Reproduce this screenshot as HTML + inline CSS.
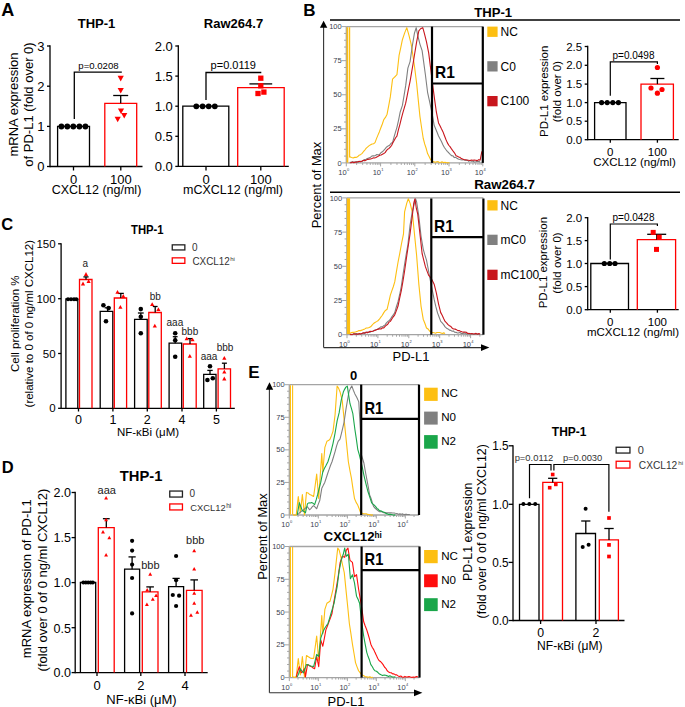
<!DOCTYPE html>
<html><head><meta charset="utf-8"><style>
html,body{margin:0;padding:0;background:#fff;}
svg{display:block;font-family:"Liberation Sans", sans-serif;}
</style></head><body>
<svg width="685" height="707" viewBox="0 0 685 707">
<rect x="0" y="0" width="685" height="707" fill="#fff"/>
<text x="1.3" y="15.9" font-size="18" text-anchor="start" font-weight="bold" fill="#000">A</text>
<text x="96.5" y="27.5" font-size="13" text-anchor="middle" font-weight="bold" fill="#000">THP-1</text>
<line x1="50" y1="45.35" x2="50" y2="167.15" stroke="#000" stroke-width="1.3"/>
<line x1="47" y1="46" x2="50" y2="46" stroke="#000" stroke-width="1.3"/>
<text x="44.5" y="50.65" font-size="13" text-anchor="end" fill="#000">3</text>
<line x1="47" y1="86.2" x2="50" y2="86.2" stroke="#000" stroke-width="1.3"/>
<text x="44.5" y="90.85" font-size="13" text-anchor="end" fill="#000">2</text>
<line x1="47" y1="126.4" x2="50" y2="126.4" stroke="#000" stroke-width="1.3"/>
<text x="44.5" y="131.05" font-size="13" text-anchor="end" fill="#000">1</text>
<line x1="47" y1="166.5" x2="50" y2="166.5" stroke="#000" stroke-width="1.3"/>
<text x="44.5" y="171.15" font-size="13" text-anchor="end" fill="#000">0</text>
<line x1="50" y1="166.5" x2="142.5" y2="166.5" stroke="#000" stroke-width="1.3"/>
<line x1="73.5" y1="166.5" x2="73.5" y2="170.5" stroke="#000" stroke-width="1.3"/>
<line x1="120.8" y1="166.5" x2="120.8" y2="170.5" stroke="#000" stroke-width="1.3"/>
<text x="73.5" y="184" font-size="13" text-anchor="middle" fill="#000">0</text>
<text x="120.8" y="184" font-size="13" text-anchor="middle" fill="#000">100</text>
<text x="96.5" y="194" font-size="12.5" text-anchor="middle" fill="#000">CXCL12 (ng/ml)</text>
<text x="17.5" y="104.5" font-size="13" text-anchor="middle" fill="#000" transform="rotate(-90 17.5 104.5)">mRNA expression</text>
<text x="32.5" y="104.5" font-size="13" text-anchor="middle" fill="#000" transform="rotate(-90 32.5 104.5)">of PD-L1  (fold over 0)</text>
<path d="M57.6 166.5V126.4H89.5V166.5" fill="none" stroke="#000000" stroke-width="1.3"/>
<path d="M104.8 166.5V103.3H136.7V166.5" fill="none" stroke="#ff0000" stroke-width="1.3"/>
<line x1="120.7" y1="103.3" x2="120.7" y2="95.5" stroke="#000" stroke-width="1.3"/>
<line x1="113.2" y1="95.5" x2="128.2" y2="95.5" stroke="#000" stroke-width="1.3"/>
<circle cx="61.4" cy="126.5" r="2.9" fill="#000"/>
<circle cx="67.3" cy="126.5" r="2.9" fill="#000"/>
<circle cx="73.3" cy="126.5" r="2.9" fill="#000"/>
<circle cx="79.4" cy="126.5" r="2.9" fill="#000"/>
<circle cx="85.4" cy="126.5" r="2.9" fill="#000"/>
<path d="M117.6 75.81L123.8 75.81L120.7 81.39Z" fill="#ff0000"/>
<path d="M117.6 88.01L123.8 88.01L120.7 93.59Z" fill="#ff0000"/>
<path d="M117.9 108.41L124.1 108.41L121 113.99Z" fill="#ff0000"/>
<path d="M121.1 112.91L127.3 112.91L124.2 118.49Z" fill="#ff0000"/>
<path d="M114.6 116.71L120.8 116.71L117.7 122.29Z" fill="#ff0000"/>
<path d="M74.3 119.1V72.1H121.8" stroke="#000" stroke-width="1.3" fill="none"/>
<text x="98.5" y="69.3" font-size="9.6" text-anchor="middle" fill="#000">p=0.0208</text>
<text x="233.5" y="28" font-size="13" text-anchor="middle" font-weight="bold" fill="#000">Raw264.7</text>
<line x1="178.3" y1="45.35" x2="178.3" y2="167.05" stroke="#000" stroke-width="1.3"/>
<line x1="175.3" y1="46" x2="178.3" y2="46" stroke="#000" stroke-width="1.3"/>
<text x="172.8" y="50.65" font-size="13" text-anchor="end" fill="#000">2.0</text>
<line x1="175.3" y1="76.1" x2="178.3" y2="76.1" stroke="#000" stroke-width="1.3"/>
<text x="172.8" y="80.75" font-size="13" text-anchor="end" fill="#000">1.5</text>
<line x1="175.3" y1="106.2" x2="178.3" y2="106.2" stroke="#000" stroke-width="1.3"/>
<text x="172.8" y="110.85" font-size="13" text-anchor="end" fill="#000">1.0</text>
<line x1="175.3" y1="136.3" x2="178.3" y2="136.3" stroke="#000" stroke-width="1.3"/>
<text x="172.8" y="140.95" font-size="13" text-anchor="end" fill="#000">0.5</text>
<line x1="175.3" y1="166.4" x2="178.3" y2="166.4" stroke="#000" stroke-width="1.3"/>
<text x="172.8" y="171.05" font-size="13" text-anchor="end" fill="#000">0.0</text>
<line x1="178.3" y1="166.4" x2="288.8" y2="166.4" stroke="#000" stroke-width="1.3"/>
<line x1="206" y1="166.4" x2="206" y2="170.4" stroke="#000" stroke-width="1.3"/>
<line x1="260.8" y1="166.4" x2="260.8" y2="170.4" stroke="#000" stroke-width="1.3"/>
<text x="206" y="184" font-size="13" text-anchor="middle" fill="#000">0</text>
<text x="260.8" y="184" font-size="13" text-anchor="middle" fill="#000">100</text>
<text x="233" y="194" font-size="12.5" text-anchor="middle" fill="#000">mCXCL12 (ng/ml)</text>
<path d="M182.8 166.4V106.2H228.8V166.4" fill="none" stroke="#000000" stroke-width="1.3"/>
<path d="M237.7 166.4V87.6H284.2V166.4" fill="none" stroke="#ff0000" stroke-width="1.3"/>
<line x1="260.8" y1="87.6" x2="260.8" y2="83.9" stroke="#000" stroke-width="1.3"/>
<line x1="249.4" y1="83.9" x2="272.2" y2="83.9" stroke="#000" stroke-width="1.3"/>
<circle cx="196.3" cy="106.3" r="2.9" fill="#000"/>
<circle cx="202.6" cy="106.3" r="2.9" fill="#000"/>
<circle cx="208.7" cy="106.3" r="2.9" fill="#000"/>
<circle cx="214.8" cy="106.3" r="2.9" fill="#000"/>
<rect x="258.15" y="75.55" width="5.3" height="5.3" fill="#ff0000"/>
<rect x="258.15" y="83.15" width="5.3" height="5.3" fill="#ff0000"/>
<rect x="255.35" y="90.85" width="5.3" height="5.3" fill="#ff0000"/>
<rect x="261.25" y="89.45" width="5.3" height="5.3" fill="#ff0000"/>
<path d="M206 100V72.5H261.3" stroke="#000" stroke-width="1.3" fill="none"/>
<text x="233.3" y="69.4" font-size="11" text-anchor="middle" fill="#000">p=0.0119</text>
<text x="303.2" y="15.5" font-size="17" text-anchor="start" font-weight="bold" fill="#000">B</text>
<text x="474.2" y="17.4" font-size="13.1" text-anchor="start" font-weight="bold" fill="#000">THP-1</text>
<line x1="330" y1="19.9" x2="680" y2="19.9" stroke="#000000" stroke-width="1.5"/>
<text x="474.2" y="189.3" font-size="13.3" text-anchor="start" font-weight="bold" fill="#000">Raw264.7</text>
<line x1="330" y1="192.3" x2="680" y2="192.3" stroke="#000000" stroke-width="1.5"/>
<line x1="323.6" y1="27" x2="323.6" y2="347.6" stroke="#333" stroke-width="1.1"/>
<path d="M319.9 27.8L323.6 20.7L327.3 27.8Z" stroke="#000" stroke-width="0" fill="#000000"/>
<line x1="323.6" y1="347.6" x2="482" y2="347.6" stroke="#333" stroke-width="1.1"/>
<path d="M481 344.2L489.4 347.6L481 351Z" stroke="#000" stroke-width="0" fill="#000000"/>
<text x="321" y="185" font-size="12.85" text-anchor="middle" fill="#000" transform="rotate(-90 321 185)">Percent of Max</text>
<text x="411" y="361.4" font-size="13" text-anchor="middle" fill="#000">PD-L1</text>
<line x1="346.3" y1="26.6" x2="482.8" y2="26.6" stroke="#a4a4a4" stroke-width="1.3"/>
<line x1="346.3" y1="26.6" x2="346.3" y2="162.9" stroke="#a4a4a4" stroke-width="1.3"/>
<line x1="346.3" y1="162.9" x2="482.8" y2="162.9" stroke="#a4a4a4" stroke-width="1.3"/>
<line x1="341.8" y1="162.9" x2="346.3" y2="162.9" stroke="#a4a4a4" stroke-width="1"/>
<text x="341.7" y="165.5" font-size="7.5" text-anchor="end" fill="#3a4150">0</text>
<line x1="344.1" y1="156.09" x2="346.3" y2="156.09" stroke="#a4a4a4" stroke-width="1"/>
<line x1="344.1" y1="149.27" x2="346.3" y2="149.27" stroke="#a4a4a4" stroke-width="1"/>
<line x1="344.1" y1="142.46" x2="346.3" y2="142.46" stroke="#a4a4a4" stroke-width="1"/>
<line x1="344.1" y1="135.64" x2="346.3" y2="135.64" stroke="#a4a4a4" stroke-width="1"/>
<line x1="341.8" y1="128.82" x2="346.3" y2="128.82" stroke="#a4a4a4" stroke-width="1"/>
<text x="341.7" y="131.42" font-size="7.5" text-anchor="end" fill="#3a4150">25</text>
<line x1="344.1" y1="122.01" x2="346.3" y2="122.01" stroke="#a4a4a4" stroke-width="1"/>
<line x1="344.1" y1="115.19" x2="346.3" y2="115.19" stroke="#a4a4a4" stroke-width="1"/>
<line x1="344.1" y1="108.38" x2="346.3" y2="108.38" stroke="#a4a4a4" stroke-width="1"/>
<line x1="344.1" y1="101.56" x2="346.3" y2="101.56" stroke="#a4a4a4" stroke-width="1"/>
<line x1="341.8" y1="94.75" x2="346.3" y2="94.75" stroke="#a4a4a4" stroke-width="1"/>
<text x="341.7" y="97.35" font-size="7.5" text-anchor="end" fill="#3a4150">50</text>
<line x1="344.1" y1="87.94" x2="346.3" y2="87.94" stroke="#a4a4a4" stroke-width="1"/>
<line x1="344.1" y1="81.12" x2="346.3" y2="81.12" stroke="#a4a4a4" stroke-width="1"/>
<line x1="344.1" y1="74.31" x2="346.3" y2="74.31" stroke="#a4a4a4" stroke-width="1"/>
<line x1="344.1" y1="67.49" x2="346.3" y2="67.49" stroke="#a4a4a4" stroke-width="1"/>
<line x1="341.8" y1="60.67" x2="346.3" y2="60.67" stroke="#a4a4a4" stroke-width="1"/>
<text x="341.7" y="63.27" font-size="7.5" text-anchor="end" fill="#3a4150">75</text>
<line x1="344.1" y1="53.86" x2="346.3" y2="53.86" stroke="#a4a4a4" stroke-width="1"/>
<line x1="344.1" y1="47.04" x2="346.3" y2="47.04" stroke="#a4a4a4" stroke-width="1"/>
<line x1="344.1" y1="40.23" x2="346.3" y2="40.23" stroke="#a4a4a4" stroke-width="1"/>
<line x1="344.1" y1="33.41" x2="346.3" y2="33.41" stroke="#a4a4a4" stroke-width="1"/>
<line x1="341.8" y1="26.6" x2="346.3" y2="26.6" stroke="#a4a4a4" stroke-width="1"/>
<text x="341.7" y="29.2" font-size="7.5" text-anchor="end" fill="#3a4150">100</text>
<line x1="346.3" y1="162.9" x2="346.3" y2="166.4" stroke="#a4a4a4" stroke-width="1"/>
<text x="346.7" y="174.9" font-size="7.5" text-anchor="end" fill="#3a4150">10</text>
<text x="346.9" y="171.2" font-size="4" text-anchor="start" fill="#3a4150">0</text>
<line x1="356.63" y1="162.9" x2="356.63" y2="164.9" stroke="#a4a4a4" stroke-width="1"/>
<line x1="362.67" y1="162.9" x2="362.67" y2="164.9" stroke="#a4a4a4" stroke-width="1"/>
<line x1="366.95" y1="162.9" x2="366.95" y2="164.9" stroke="#a4a4a4" stroke-width="1"/>
<line x1="370.27" y1="162.9" x2="370.27" y2="164.9" stroke="#a4a4a4" stroke-width="1"/>
<line x1="372.99" y1="162.9" x2="372.99" y2="164.9" stroke="#a4a4a4" stroke-width="1"/>
<line x1="375.29" y1="162.9" x2="375.29" y2="164.9" stroke="#a4a4a4" stroke-width="1"/>
<line x1="377.28" y1="162.9" x2="377.28" y2="164.9" stroke="#a4a4a4" stroke-width="1"/>
<line x1="379.03" y1="162.9" x2="379.03" y2="164.9" stroke="#a4a4a4" stroke-width="1"/>
<line x1="380.6" y1="162.9" x2="380.6" y2="166.4" stroke="#a4a4a4" stroke-width="1"/>
<text x="381" y="174.9" font-size="7.5" text-anchor="end" fill="#3a4150">10</text>
<text x="381.2" y="171.2" font-size="4" text-anchor="start" fill="#3a4150">1</text>
<line x1="390.93" y1="162.9" x2="390.93" y2="164.9" stroke="#a4a4a4" stroke-width="1"/>
<line x1="396.97" y1="162.9" x2="396.97" y2="164.9" stroke="#a4a4a4" stroke-width="1"/>
<line x1="401.25" y1="162.9" x2="401.25" y2="164.9" stroke="#a4a4a4" stroke-width="1"/>
<line x1="404.57" y1="162.9" x2="404.57" y2="164.9" stroke="#a4a4a4" stroke-width="1"/>
<line x1="407.29" y1="162.9" x2="407.29" y2="164.9" stroke="#a4a4a4" stroke-width="1"/>
<line x1="409.59" y1="162.9" x2="409.59" y2="164.9" stroke="#a4a4a4" stroke-width="1"/>
<line x1="411.58" y1="162.9" x2="411.58" y2="164.9" stroke="#a4a4a4" stroke-width="1"/>
<line x1="413.33" y1="162.9" x2="413.33" y2="164.9" stroke="#a4a4a4" stroke-width="1"/>
<line x1="414.8" y1="162.9" x2="414.8" y2="166.4" stroke="#a4a4a4" stroke-width="1"/>
<text x="415.2" y="174.9" font-size="7.5" text-anchor="end" fill="#3a4150">10</text>
<text x="415.4" y="171.2" font-size="4" text-anchor="start" fill="#3a4150">2</text>
<line x1="425.13" y1="162.9" x2="425.13" y2="164.9" stroke="#a4a4a4" stroke-width="1"/>
<line x1="431.17" y1="162.9" x2="431.17" y2="164.9" stroke="#a4a4a4" stroke-width="1"/>
<line x1="435.45" y1="162.9" x2="435.45" y2="164.9" stroke="#a4a4a4" stroke-width="1"/>
<line x1="438.77" y1="162.9" x2="438.77" y2="164.9" stroke="#a4a4a4" stroke-width="1"/>
<line x1="441.49" y1="162.9" x2="441.49" y2="164.9" stroke="#a4a4a4" stroke-width="1"/>
<line x1="443.79" y1="162.9" x2="443.79" y2="164.9" stroke="#a4a4a4" stroke-width="1"/>
<line x1="445.78" y1="162.9" x2="445.78" y2="164.9" stroke="#a4a4a4" stroke-width="1"/>
<line x1="447.53" y1="162.9" x2="447.53" y2="164.9" stroke="#a4a4a4" stroke-width="1"/>
<line x1="449" y1="162.9" x2="449" y2="166.4" stroke="#a4a4a4" stroke-width="1"/>
<text x="449.4" y="174.9" font-size="7.5" text-anchor="end" fill="#3a4150">10</text>
<text x="449.6" y="171.2" font-size="4" text-anchor="start" fill="#3a4150">3</text>
<line x1="459.33" y1="162.9" x2="459.33" y2="164.9" stroke="#a4a4a4" stroke-width="1"/>
<line x1="465.37" y1="162.9" x2="465.37" y2="164.9" stroke="#a4a4a4" stroke-width="1"/>
<line x1="469.65" y1="162.9" x2="469.65" y2="164.9" stroke="#a4a4a4" stroke-width="1"/>
<line x1="472.97" y1="162.9" x2="472.97" y2="164.9" stroke="#a4a4a4" stroke-width="1"/>
<line x1="475.69" y1="162.9" x2="475.69" y2="164.9" stroke="#a4a4a4" stroke-width="1"/>
<line x1="477.99" y1="162.9" x2="477.99" y2="164.9" stroke="#a4a4a4" stroke-width="1"/>
<line x1="479.98" y1="162.9" x2="479.98" y2="164.9" stroke="#a4a4a4" stroke-width="1"/>
<line x1="481.73" y1="162.9" x2="481.73" y2="164.9" stroke="#a4a4a4" stroke-width="1"/>
<line x1="482.8" y1="162.9" x2="482.8" y2="166.4" stroke="#a4a4a4" stroke-width="1"/>
<text x="483.2" y="174.9" font-size="7.5" text-anchor="end" fill="#3a4150">10</text>
<text x="483.4" y="171.2" font-size="4" text-anchor="start" fill="#3a4150">4</text>
<rect x="346.6" y="27.2" width="1.7" height="135.4" fill="#fdbf12"/>
<line x1="349.6" y1="27.2" x2="349.6" y2="157.5" stroke="#fdbf12" stroke-width="1.2"/>
<polyline points="349.85,156.85 351.5,157.57 353.14,157.95 354.6,157.37 356.06,157.41 357.52,156.85 358.98,155.32 360.44,154.68 361.9,153.57 363.36,151.73 364.82,150.03 366.28,148.09 367.74,146.85 369.19,145.64 370.65,144.81 372.11,143.94 373.57,143.71 375.03,142.62 376.49,138.61 377.95,135.1 379.41,131.67 380.87,127.81 382.33,123.96 383.79,119.63 385.43,117.43 387.08,114.15 388.72,105.73 390.36,96.64 392.55,79.12 394.01,77.62 395.47,76.24 396.93,74.74 399.12,55.03 400.76,47.51 402.4,39.71 404.59,33.14 406.78,27.66 408.97,35.33 411.16,44.09 412.8,54.76 414.45,65.98 416.64,83.5 418.28,100.15 419.92,116.34 421.56,127.53 423.21,138.24 424.67,143.88 426.13,148.27 427.58,153.57 429.23,156.79 430.87,160.14 432.51,161.24 434.15,161.89 435.47,162.24 436.78,161.7 438.1,161.62 439.41,162.55 440.72,162.33 442.18,161.89 443.64,162.58 445.1,162.26 446.56,162.68 448.02,162.71 449.48,162.76" fill="none" stroke="#fdbf12" stroke-width="1.1" stroke-linejoin="round"/>
<polyline points="349.85,162.33 351.19,162.09 352.53,161.73 353.87,162.12 355.21,162.08 356.54,161.5 357.88,162.11 359.22,161.84 360.56,161.23 361.9,161.23 363.26,160.77 364.63,159.45 366,159.3 367.37,158.55 368.74,158.03 370.11,157.57 371.48,156.33 372.84,155.76 374.16,155.9 375.47,155.45 376.79,154.57 378.1,154.74 379.41,154.66 380.87,152.77 382.33,151.81 383.79,150.28 385.25,148.68 386.71,146.98 388.17,145.9 389.63,145.14 391.09,143.24 392.55,142.62 394.01,137.05 395.47,132.07 396.93,127.29 398.57,120.07 400.21,111.96 402.4,105.4 404.05,95.6 405.69,85.69 407.88,68.17 410.07,61.6 412.26,46.28 414.45,33.14 416.2,27.66 417.73,35.33 419.92,44.09 422.11,50.65 423.75,62.69 425.4,74.74 427.58,92.26 429.23,99.79 430.87,107.58 432.51,115.9 434.15,125.1 435.61,128.7 437.07,132.19 438.53,136.05 439.99,138.83 441.45,141.47 442.91,144.81 444.37,147.49 445.83,149.51 447.29,151.38 448.75,152.76 450.21,154.37 451.67,155.76 452.98,155.89 454.3,157.58 455.61,157.35 456.93,158.22 458.24,159.04 459.55,159.53 460.87,159.72 462.18,160.06 463.49,159.57 464.81,160.14 466.12,160.57 467.44,160.08 468.75,161.33 470.06,160.5 471.38,161.23 472.84,160.97 474.3,161.99 475.76,161.75 477.22,161.16 478.68,161.49 480.14,161.89" fill="none" stroke="#808080" stroke-width="1.1" stroke-linejoin="round"/>
<polyline points="349.85,162.76 351.19,162.75 352.53,162.05 353.87,162.7 355.21,162.01 356.54,162.31 357.88,161.74 359.22,161.2 360.56,161.71 361.9,161.23 363.36,160.32 364.82,160.83 366.28,159.91 367.74,159.36 369.19,159.1 370.65,159.04 371.97,158.55 373.28,157.88 374.6,157.99 375.91,157.52 377.22,156.85 378.54,155.95 379.85,155.22 381.16,155.07 382.48,154.33 383.79,153.57 385.11,152.67 386.42,150.63 387.73,149.22 389.05,148.38 390.36,147 391.68,145.34 392.99,142.54 394.3,140.3 395.62,137.76 396.93,136.05 398.39,129.98 399.85,124.62 401.31,118.53 402.77,113.12 404.23,108.15 405.69,103.21 407.15,95.82 408.61,88.48 410.07,81.31 411.53,72.87 412.99,64.25 414.45,55.03 416.64,41.9 418.83,30.95 420.58,28.76 422.77,27.66 424.3,33.14 426.49,41.9 428.68,52.84 430.87,70.36 433.06,87.88 434.7,100.06 436.34,111.96 438.53,122.91 439.99,125.81 441.45,128.83 442.91,131.67 444.37,135.46 445.83,139.24 447.29,142.62 448.75,145.25 450.21,146.89 451.67,149.19 453.13,151.21 454.59,153.07 456.05,155.76 457.36,156.34 458.68,157.02 459.99,157.37 461.31,158.55 462.62,159.04 464.08,159.69 465.54,159.72 467,160.08 468.46,160.23 469.92,160.43 471.38,160.14 472.84,160.31 474.3,160.13 475.76,160.28 477.22,160.65 478.68,159.65 480.14,160.14 481.89,151.38" fill="none" stroke="#c8161d" stroke-width="1.1" stroke-linejoin="round"/>
<line x1="432" y1="26.6" x2="432" y2="162.9" stroke="#000000" stroke-width="2.2"/>
<line x1="482.8" y1="26.6" x2="482.8" y2="162.9" stroke="#000000" stroke-width="2.2"/>
<line x1="432" y1="83.5" x2="482.8" y2="83.5" stroke="#000000" stroke-width="2.2"/>
<text x="435" y="77.9" font-size="17" text-anchor="start" font-weight="bold" fill="#000" textLength="19.8" lengthAdjust="spacingAndGlyphs">R1</text>
<line x1="346.8" y1="197.9" x2="483.4" y2="197.9" stroke="#a4a4a4" stroke-width="1.3"/>
<line x1="346.8" y1="197.9" x2="346.8" y2="334.7" stroke="#a4a4a4" stroke-width="1.3"/>
<line x1="346.8" y1="334.7" x2="483.4" y2="334.7" stroke="#a4a4a4" stroke-width="1.3"/>
<line x1="342.3" y1="334.7" x2="346.8" y2="334.7" stroke="#a4a4a4" stroke-width="1"/>
<text x="342.2" y="337.3" font-size="7.5" text-anchor="end" fill="#3a4150">0</text>
<line x1="344.6" y1="327.86" x2="346.8" y2="327.86" stroke="#a4a4a4" stroke-width="1"/>
<line x1="344.6" y1="321.02" x2="346.8" y2="321.02" stroke="#a4a4a4" stroke-width="1"/>
<line x1="344.6" y1="314.18" x2="346.8" y2="314.18" stroke="#a4a4a4" stroke-width="1"/>
<line x1="344.6" y1="307.34" x2="346.8" y2="307.34" stroke="#a4a4a4" stroke-width="1"/>
<line x1="342.3" y1="300.5" x2="346.8" y2="300.5" stroke="#a4a4a4" stroke-width="1"/>
<text x="342.2" y="303.1" font-size="7.5" text-anchor="end" fill="#3a4150">25</text>
<line x1="344.6" y1="293.66" x2="346.8" y2="293.66" stroke="#a4a4a4" stroke-width="1"/>
<line x1="344.6" y1="286.82" x2="346.8" y2="286.82" stroke="#a4a4a4" stroke-width="1"/>
<line x1="344.6" y1="279.98" x2="346.8" y2="279.98" stroke="#a4a4a4" stroke-width="1"/>
<line x1="344.6" y1="273.14" x2="346.8" y2="273.14" stroke="#a4a4a4" stroke-width="1"/>
<line x1="342.3" y1="266.3" x2="346.8" y2="266.3" stroke="#a4a4a4" stroke-width="1"/>
<text x="342.2" y="268.9" font-size="7.5" text-anchor="end" fill="#3a4150">50</text>
<line x1="344.6" y1="259.46" x2="346.8" y2="259.46" stroke="#a4a4a4" stroke-width="1"/>
<line x1="344.6" y1="252.62" x2="346.8" y2="252.62" stroke="#a4a4a4" stroke-width="1"/>
<line x1="344.6" y1="245.78" x2="346.8" y2="245.78" stroke="#a4a4a4" stroke-width="1"/>
<line x1="344.6" y1="238.94" x2="346.8" y2="238.94" stroke="#a4a4a4" stroke-width="1"/>
<line x1="342.3" y1="232.1" x2="346.8" y2="232.1" stroke="#a4a4a4" stroke-width="1"/>
<text x="342.2" y="234.7" font-size="7.5" text-anchor="end" fill="#3a4150">75</text>
<line x1="344.6" y1="225.26" x2="346.8" y2="225.26" stroke="#a4a4a4" stroke-width="1"/>
<line x1="344.6" y1="218.42" x2="346.8" y2="218.42" stroke="#a4a4a4" stroke-width="1"/>
<line x1="344.6" y1="211.58" x2="346.8" y2="211.58" stroke="#a4a4a4" stroke-width="1"/>
<line x1="344.6" y1="204.74" x2="346.8" y2="204.74" stroke="#a4a4a4" stroke-width="1"/>
<line x1="342.3" y1="197.9" x2="346.8" y2="197.9" stroke="#a4a4a4" stroke-width="1"/>
<text x="342.2" y="200.5" font-size="7.5" text-anchor="end" fill="#3a4150">100</text>
<line x1="347" y1="334.7" x2="347" y2="338.2" stroke="#a4a4a4" stroke-width="1"/>
<text x="347.4" y="346.7" font-size="7.5" text-anchor="end" fill="#3a4150">10</text>
<text x="347.6" y="343" font-size="4" text-anchor="start" fill="#3a4150">0</text>
<line x1="356.3" y1="334.7" x2="356.3" y2="336.7" stroke="#a4a4a4" stroke-width="1"/>
<line x1="361.74" y1="334.7" x2="361.74" y2="336.7" stroke="#a4a4a4" stroke-width="1"/>
<line x1="365.6" y1="334.7" x2="365.6" y2="336.7" stroke="#a4a4a4" stroke-width="1"/>
<line x1="368.6" y1="334.7" x2="368.6" y2="336.7" stroke="#a4a4a4" stroke-width="1"/>
<line x1="371.04" y1="334.7" x2="371.04" y2="336.7" stroke="#a4a4a4" stroke-width="1"/>
<line x1="373.11" y1="334.7" x2="373.11" y2="336.7" stroke="#a4a4a4" stroke-width="1"/>
<line x1="374.91" y1="334.7" x2="374.91" y2="336.7" stroke="#a4a4a4" stroke-width="1"/>
<line x1="376.49" y1="334.7" x2="376.49" y2="336.7" stroke="#a4a4a4" stroke-width="1"/>
<line x1="377.9" y1="334.7" x2="377.9" y2="338.2" stroke="#a4a4a4" stroke-width="1"/>
<text x="378.3" y="346.7" font-size="7.5" text-anchor="end" fill="#3a4150">10</text>
<text x="378.5" y="343" font-size="4" text-anchor="start" fill="#3a4150">1</text>
<line x1="387.2" y1="334.7" x2="387.2" y2="336.7" stroke="#a4a4a4" stroke-width="1"/>
<line x1="392.64" y1="334.7" x2="392.64" y2="336.7" stroke="#a4a4a4" stroke-width="1"/>
<line x1="396.5" y1="334.7" x2="396.5" y2="336.7" stroke="#a4a4a4" stroke-width="1"/>
<line x1="399.5" y1="334.7" x2="399.5" y2="336.7" stroke="#a4a4a4" stroke-width="1"/>
<line x1="401.94" y1="334.7" x2="401.94" y2="336.7" stroke="#a4a4a4" stroke-width="1"/>
<line x1="404.01" y1="334.7" x2="404.01" y2="336.7" stroke="#a4a4a4" stroke-width="1"/>
<line x1="405.81" y1="334.7" x2="405.81" y2="336.7" stroke="#a4a4a4" stroke-width="1"/>
<line x1="407.39" y1="334.7" x2="407.39" y2="336.7" stroke="#a4a4a4" stroke-width="1"/>
<line x1="408.8" y1="334.7" x2="408.8" y2="338.2" stroke="#a4a4a4" stroke-width="1"/>
<text x="409.2" y="346.7" font-size="7.5" text-anchor="end" fill="#3a4150">10</text>
<text x="409.4" y="343" font-size="4" text-anchor="start" fill="#3a4150">2</text>
<line x1="418.1" y1="334.7" x2="418.1" y2="336.7" stroke="#a4a4a4" stroke-width="1"/>
<line x1="423.54" y1="334.7" x2="423.54" y2="336.7" stroke="#a4a4a4" stroke-width="1"/>
<line x1="427.4" y1="334.7" x2="427.4" y2="336.7" stroke="#a4a4a4" stroke-width="1"/>
<line x1="430.4" y1="334.7" x2="430.4" y2="336.7" stroke="#a4a4a4" stroke-width="1"/>
<line x1="432.84" y1="334.7" x2="432.84" y2="336.7" stroke="#a4a4a4" stroke-width="1"/>
<line x1="434.91" y1="334.7" x2="434.91" y2="336.7" stroke="#a4a4a4" stroke-width="1"/>
<line x1="436.71" y1="334.7" x2="436.71" y2="336.7" stroke="#a4a4a4" stroke-width="1"/>
<line x1="438.29" y1="334.7" x2="438.29" y2="336.7" stroke="#a4a4a4" stroke-width="1"/>
<line x1="439.7" y1="334.7" x2="439.7" y2="338.2" stroke="#a4a4a4" stroke-width="1"/>
<text x="440.1" y="346.7" font-size="7.5" text-anchor="end" fill="#3a4150">10</text>
<text x="440.3" y="343" font-size="4" text-anchor="start" fill="#3a4150">3</text>
<line x1="449" y1="334.7" x2="449" y2="336.7" stroke="#a4a4a4" stroke-width="1"/>
<line x1="454.44" y1="334.7" x2="454.44" y2="336.7" stroke="#a4a4a4" stroke-width="1"/>
<line x1="458.3" y1="334.7" x2="458.3" y2="336.7" stroke="#a4a4a4" stroke-width="1"/>
<line x1="461.3" y1="334.7" x2="461.3" y2="336.7" stroke="#a4a4a4" stroke-width="1"/>
<line x1="463.74" y1="334.7" x2="463.74" y2="336.7" stroke="#a4a4a4" stroke-width="1"/>
<line x1="465.81" y1="334.7" x2="465.81" y2="336.7" stroke="#a4a4a4" stroke-width="1"/>
<line x1="467.61" y1="334.7" x2="467.61" y2="336.7" stroke="#a4a4a4" stroke-width="1"/>
<line x1="469.19" y1="334.7" x2="469.19" y2="336.7" stroke="#a4a4a4" stroke-width="1"/>
<line x1="470.6" y1="334.7" x2="470.6" y2="338.2" stroke="#a4a4a4" stroke-width="1"/>
<text x="471" y="346.7" font-size="7.5" text-anchor="end" fill="#3a4150">10</text>
<text x="471.2" y="343" font-size="4" text-anchor="start" fill="#3a4150">4</text>
<line x1="479.9" y1="334.7" x2="479.9" y2="336.7" stroke="#a4a4a4" stroke-width="1"/>
<rect x="346.9" y="198.3" width="3.2" height="135.8" fill="#fdbf12"/>
<polyline points="349.85,333.42 351.39,332.46 352.92,332.34 354.45,332.23 355.98,331.83 357.52,331.23 358.98,330.45 360.44,330.61 361.9,330.14 363.36,329.5 364.82,328.91 366.28,327.95 367.74,328.03 369.19,327.57 370.65,326.85 372.11,325.15 373.57,323.5 375.03,322.47 376.49,321.64 377.95,320.75 379.41,319.19 380.87,317.1 382.33,315.26 383.79,312.62 385.43,310.44 387.08,309.33 388.72,302.49 390.36,295.1 391.82,290.87 393.28,286.72 394.74,281.96 396.38,271.93 398.02,262.26 399.67,253.83 401.31,244.74 403.5,233.79 404.59,211.9 406.78,203.14 408.32,198.76 410.07,203.14 412.26,211.9 414.45,233.79 416.64,255.69 418.83,284.15 421.02,306.05 423.21,319.19 424.85,323.29 426.49,327.95 428.13,329.05 429.77,331.23 431.23,332.17 432.69,332.45 434.15,332.76 435.52,333.19 436.89,332.5 438.26,332.52 439.63,332.57 441,332.93 442.36,333.4 443.73,332.87 445.1,333.42" fill="none" stroke="#fdbf12" stroke-width="1.1" stroke-linejoin="round"/>
<polyline points="349.85,334.51 351.19,334.34 352.53,334.72 353.87,333.88 355.21,333.53 356.54,333.49 357.88,334.08 359.22,334.13 360.56,333.9 361.9,333.42 363.26,333.12 364.63,332.63 366,332.89 367.37,331.94 368.74,332.44 370.11,332.3 371.48,331.36 372.84,331.23 374.21,330.81 375.58,329.75 376.95,329.48 378.32,328.69 379.69,327.73 381.06,326.68 382.42,326.89 383.79,325.76 385.11,324.83 386.42,322.88 387.73,321.51 389.05,320.82 390.36,319.19 391.82,316.9 393.28,314.95 394.74,312.62 396.38,306.75 398.02,301.67 399.67,294.49 401.31,286.34 402.95,274.99 404.59,264.45 406.24,254.16 407.88,244.74 410.07,225.03 412.26,211.9 414.45,203.14 415.54,198.76 416.64,202.04 418.83,216.28 421.02,235.98 423.21,249.12 424.85,254.85 426.49,260.07 428.13,268.62 429.77,277.58 431.96,288.53 434.15,299.48 435.8,306.44 437.44,312.62 439.08,316.98 440.72,321.38 442.18,322.98 443.64,324.64 445.1,326.85 446.56,328.2 448.02,328.9 449.48,330.14 450.79,330.38 452.11,331.19 453.42,330.92 454.74,332.29 456.05,332.33 457.36,332.99 458.68,332.9 459.99,332.57 461.31,333.52 462.62,333.42 463.97,333.14 465.31,333.28 466.66,333.95 468.01,334.06 469.36,333.94 470.7,333.84 472.05,333.67 473.4,334 474.75,334.38 476.09,333.7 477.44,334.05 478.79,334.41 480.14,334.08" fill="none" stroke="#808080" stroke-width="1.1" stroke-linejoin="round"/>
<polyline points="349.85,334.51 351.19,334.68 352.53,334.3 353.87,333.8 355.21,334.29 356.54,333.92 357.88,334.3 359.22,333.53 360.56,334.05 361.9,333.42 363.26,332.86 364.63,333.31 366,332.07 367.37,332.84 368.74,331.99 370.11,331.3 371.48,331.43 372.84,331.23 374.21,330.39 375.58,330.2 376.95,329.55 378.32,329.14 379.69,328.78 381.06,328.99 382.42,327.86 383.79,327.95 385.11,326.4 386.42,325.2 387.73,324.33 389.05,322.15 390.36,321.38 391.82,319.04 393.28,316.8 394.74,314.81 396.38,310.58 398.02,306.05 399.67,298.04 401.31,290.72 402.95,281.1 404.59,271.02 406.78,255.69 408.43,244.79 410.07,233.79 412.26,216.28 413.79,203.14 414.89,198.76 416.2,207.52 417.73,214.09 419.92,233.79 422.11,253.5 423.75,260.1 425.4,266.64 427.04,271.1 428.68,275.4 430.32,277.04 431.96,279.77 434.15,284.15 436.34,292.91 438.53,303.86 440.72,312.62 442.18,315.31 443.64,318.47 445.1,321.38 446.56,322.83 448.02,324.65 449.48,325.76 450.94,326.58 452.4,328.43 453.86,329.04 455.17,329.12 456.49,329.67 457.8,330.64 459.12,330.55 460.43,331.23 461.89,331.71 463.35,332.14 464.81,332.15 466.27,332.28 467.73,333.5 469.19,333.42 470.56,333.81 471.92,333.56 473.29,333.98 474.66,333.67 476.03,333.36 477.4,334.24 478.77,333.62 480.14,334.08" fill="none" stroke="#c8161d" stroke-width="1.1" stroke-linejoin="round"/>
<line x1="431.3" y1="198.5" x2="431.3" y2="334.7" stroke="#000000" stroke-width="2.2"/>
<line x1="483.4" y1="198.5" x2="483.4" y2="334.7" stroke="#000000" stroke-width="2.2"/>
<line x1="431.3" y1="237.1" x2="483.4" y2="237.1" stroke="#000000" stroke-width="2.2"/>
<text x="434" y="231.7" font-size="17" text-anchor="start" font-weight="bold" fill="#000" textLength="19.8" lengthAdjust="spacingAndGlyphs">R1</text>
<rect x="487.3" y="26.6" width="10.3" height="10.3" fill="#fdbf12"/>
<text x="500.6" y="36.05" font-size="12" text-anchor="start" fill="#000">NC</text>
<rect x="487.3" y="61.2" width="10.3" height="10.3" fill="#808080"/>
<text x="500.6" y="70.65" font-size="12" text-anchor="start" fill="#000">C0</text>
<rect x="487.3" y="96" width="10.3" height="10.3" fill="#c8161d"/>
<text x="500.6" y="105.45" font-size="12" text-anchor="start" fill="#000">C100</text>
<rect x="487.3" y="200.2" width="10.3" height="10.3" fill="#fdbf12"/>
<text x="500.6" y="209.65" font-size="12" text-anchor="start" fill="#000">NC</text>
<rect x="487.3" y="234.7" width="10.3" height="10.3" fill="#808080"/>
<text x="500.6" y="244.15" font-size="12" text-anchor="start" fill="#000">mC0</text>
<rect x="487.3" y="269.7" width="10.3" height="10.3" fill="#c8161d"/>
<text x="500.6" y="279.15" font-size="12" text-anchor="start" fill="#000">mC100</text>
<line x1="587.7" y1="45.85" x2="587.7" y2="140.35" stroke="#000" stroke-width="1.3"/>
<line x1="584.7" y1="46.5" x2="587.7" y2="46.5" stroke="#000" stroke-width="1.3"/>
<text x="582.2" y="50.62" font-size="11.5" text-anchor="end" fill="#000">2.5</text>
<line x1="584.7" y1="65.3" x2="587.7" y2="65.3" stroke="#000" stroke-width="1.3"/>
<text x="582.2" y="69.42" font-size="11.5" text-anchor="end" fill="#000">2.0</text>
<line x1="584.7" y1="84.1" x2="587.7" y2="84.1" stroke="#000" stroke-width="1.3"/>
<text x="582.2" y="88.22" font-size="11.5" text-anchor="end" fill="#000">1.5</text>
<line x1="584.7" y1="102.6" x2="587.7" y2="102.6" stroke="#000" stroke-width="1.3"/>
<text x="582.2" y="106.72" font-size="11.5" text-anchor="end" fill="#000">1.0</text>
<line x1="584.7" y1="121.2" x2="587.7" y2="121.2" stroke="#000" stroke-width="1.3"/>
<text x="582.2" y="125.32" font-size="11.5" text-anchor="end" fill="#000">0.5</text>
<line x1="584.7" y1="139.7" x2="587.7" y2="139.7" stroke="#000" stroke-width="1.3"/>
<text x="582.2" y="143.82" font-size="11.5" text-anchor="end" fill="#000">0.0</text>
<line x1="587.7" y1="139.7" x2="678.7" y2="139.7" stroke="#000" stroke-width="1.3"/>
<line x1="610.3" y1="139.7" x2="610.3" y2="142.7" stroke="#000" stroke-width="1.3"/>
<line x1="657.4" y1="139.7" x2="657.4" y2="142.7" stroke="#000" stroke-width="1.3"/>
<text x="610.3" y="156" font-size="11.5" text-anchor="middle" fill="#000">0</text>
<text x="657.4" y="156" font-size="11.5" text-anchor="middle" fill="#000">100</text>
<text x="634.5" y="166" font-size="11.5" text-anchor="middle" fill="#000">CXCL12 (ng/ml)</text>
<text x="547.8" y="91.3" font-size="11.5" text-anchor="middle" fill="#000" transform="rotate(-90 547.8 91.3)">PD-L1 expression</text>
<text x="561.2" y="91.6" font-size="11.5" text-anchor="middle" fill="#000" transform="rotate(-90 561.2 91.6)">(fold over 0)</text>
<path d="M594.6 139.7V102.6H626V139.7" fill="none" stroke="#000000" stroke-width="1.3"/>
<path d="M641 139.7V84.1H673.4V139.7" fill="none" stroke="#ff0000" stroke-width="1.3"/>
<line x1="657.4" y1="84.1" x2="657.4" y2="78.5" stroke="#000" stroke-width="1.3"/>
<line x1="650.4" y1="78.5" x2="664.4" y2="78.5" stroke="#000" stroke-width="1.3"/>
<circle cx="601.6" cy="102.6" r="2.6" fill="#000"/>
<circle cx="607.2" cy="102.6" r="2.6" fill="#000"/>
<circle cx="612.8" cy="102.6" r="2.6" fill="#000"/>
<circle cx="618.4" cy="102.6" r="2.6" fill="#000"/>
<circle cx="657.4" cy="67.5" r="2.6" fill="#ff0000"/>
<circle cx="651" cy="88" r="2.6" fill="#ff0000"/>
<circle cx="662" cy="89.5" r="2.6" fill="#ff0000"/>
<circle cx="657.4" cy="93.2" r="2.6" fill="#ff0000"/>
<path d="M610.3 95.7V61.8H657.4V64" stroke="#000" stroke-width="1.2" fill="none"/>
<text x="633.5" y="58.8" font-size="10" text-anchor="middle" fill="#000">p=0.0498</text>
<line x1="587.7" y1="217.05" x2="587.7" y2="310.35" stroke="#000" stroke-width="1.3"/>
<line x1="584.7" y1="217.7" x2="587.7" y2="217.7" stroke="#000" stroke-width="1.3"/>
<text x="582.2" y="221.82" font-size="11.5" text-anchor="end" fill="#000">2.0</text>
<line x1="584.7" y1="240.6" x2="587.7" y2="240.6" stroke="#000" stroke-width="1.3"/>
<text x="582.2" y="244.72" font-size="11.5" text-anchor="end" fill="#000">1.5</text>
<line x1="584.7" y1="263.5" x2="587.7" y2="263.5" stroke="#000" stroke-width="1.3"/>
<text x="582.2" y="267.62" font-size="11.5" text-anchor="end" fill="#000">1.0</text>
<line x1="584.7" y1="286.6" x2="587.7" y2="286.6" stroke="#000" stroke-width="1.3"/>
<text x="582.2" y="290.72" font-size="11.5" text-anchor="end" fill="#000">0.5</text>
<line x1="584.7" y1="309.7" x2="587.7" y2="309.7" stroke="#000" stroke-width="1.3"/>
<text x="582.2" y="313.82" font-size="11.5" text-anchor="end" fill="#000">0.0</text>
<line x1="587.7" y1="309.7" x2="678.7" y2="309.7" stroke="#000" stroke-width="1.3"/>
<line x1="610.3" y1="309.7" x2="610.3" y2="312.7" stroke="#000" stroke-width="1.3"/>
<line x1="657.4" y1="309.7" x2="657.4" y2="312.7" stroke="#000" stroke-width="1.3"/>
<text x="610.3" y="326" font-size="11.5" text-anchor="middle" fill="#000">0</text>
<text x="657.4" y="326" font-size="11.5" text-anchor="middle" fill="#000">100</text>
<text x="633" y="335.7" font-size="11.5" text-anchor="middle" fill="#000">mCXCL12 (ng/ml)</text>
<text x="547.2" y="262.6" font-size="11.5" text-anchor="middle" fill="#000" transform="rotate(-90 547.2 262.6)">PD-L1 expression</text>
<text x="561.2" y="263" font-size="11.5" text-anchor="middle" fill="#000" transform="rotate(-90 561.2 263)">(fold over  0)</text>
<path d="M590.8 309.7V263.5H628.5V309.7" fill="none" stroke="#000000" stroke-width="1.3"/>
<path d="M637.3 309.7V239.7H675.6V309.7" fill="none" stroke="#ff0000" stroke-width="1.3"/>
<line x1="656.7" y1="239.7" x2="656.7" y2="234.3" stroke="#000" stroke-width="1.3"/>
<line x1="647.2" y1="234.3" x2="666.2" y2="234.3" stroke="#000" stroke-width="1.3"/>
<circle cx="604.3" cy="263.5" r="2.6" fill="#000"/>
<circle cx="609.7" cy="263.5" r="2.6" fill="#000"/>
<circle cx="615" cy="263.5" r="2.6" fill="#000"/>
<rect x="650.7" y="229.9" width="5" height="5" fill="#ff0000"/>
<rect x="656.7" y="234.7" width="5" height="5" fill="#ff0000"/>
<rect x="654" y="246.9" width="5" height="5" fill="#ff0000"/>
<path d="M610.3 259.5V224H657.4V226" stroke="#000" stroke-width="1.2" fill="none"/>
<text x="633.5" y="221" font-size="10" text-anchor="middle" fill="#000">p=0.0428</text>
<text x="1.3" y="229.9" font-size="16.5" text-anchor="start" font-weight="bold" fill="#000">C</text>
<text x="131" y="234.2" font-size="12.5" text-anchor="start" font-weight="bold" fill="#000" textLength="32.6" lengthAdjust="spacingAndGlyphs">THP-1</text>
<line x1="61.1" y1="243.15" x2="61.1" y2="408.95" stroke="#000" stroke-width="1.3"/>
<line x1="58.1" y1="243.8" x2="61.1" y2="243.8" stroke="#000" stroke-width="1.3"/>
<text x="55.6" y="247.92" font-size="11.5" text-anchor="end" fill="#000">150</text>
<line x1="58.1" y1="298.7" x2="61.1" y2="298.7" stroke="#000" stroke-width="1.3"/>
<text x="55.6" y="302.82" font-size="11.5" text-anchor="end" fill="#000">100</text>
<line x1="58.1" y1="353.5" x2="61.1" y2="353.5" stroke="#000" stroke-width="1.3"/>
<text x="55.6" y="357.62" font-size="11.5" text-anchor="end" fill="#000">50</text>
<line x1="58.1" y1="408.3" x2="61.1" y2="408.3" stroke="#000" stroke-width="1.3"/>
<text x="55.6" y="412.42" font-size="11.5" text-anchor="end" fill="#000">0</text>
<line x1="61.1" y1="408.3" x2="234.8" y2="408.3" stroke="#000" stroke-width="1.3"/>
<line x1="78.5" y1="408.3" x2="78.5" y2="411.5" stroke="#000" stroke-width="1.3"/>
<text x="78.5" y="423.8" font-size="12.5" text-anchor="middle" fill="#000">0</text>
<line x1="112.9" y1="408.3" x2="112.9" y2="411.5" stroke="#000" stroke-width="1.3"/>
<text x="112.9" y="423.8" font-size="12.5" text-anchor="middle" fill="#000">1</text>
<line x1="147.3" y1="408.3" x2="147.3" y2="411.5" stroke="#000" stroke-width="1.3"/>
<text x="147.3" y="423.8" font-size="12.5" text-anchor="middle" fill="#000">2</text>
<line x1="182" y1="408.3" x2="182" y2="411.5" stroke="#000" stroke-width="1.3"/>
<text x="182" y="423.8" font-size="12.5" text-anchor="middle" fill="#000">4</text>
<line x1="216.4" y1="408.3" x2="216.4" y2="411.5" stroke="#000" stroke-width="1.3"/>
<text x="216.4" y="423.8" font-size="12.5" text-anchor="middle" fill="#000">5</text>
<text x="148" y="435.5" font-size="11.5" text-anchor="middle" fill="#000">NF-κBi (μM)</text>
<text x="18.6" y="323.7" font-size="11.5" text-anchor="middle" fill="#000" transform="rotate(-90 18.6 323.7)">Cell proliferation %</text>
<text x="33.2" y="323.7" font-size="11.5" text-anchor="middle" fill="#000" transform="rotate(-90 33.2 323.7)">(relative to 0 of 0 ng/ml CXCL12)</text>
<rect x="172.25" y="244.85" width="12.6" height="5.1" stroke="#222" stroke-width="1.3" fill="none"/>
<text x="192.1" y="250.5" font-size="10" text-anchor="start" fill="#333">0</text>
<rect x="172.25" y="257.85" width="12.6" height="5.5" stroke="#ff0000" stroke-width="1.3" fill="none"/>
<text x="192.4" y="264.6" font-size="10.3" text-anchor="start" fill="#333" textLength="37.4" lengthAdjust="spacingAndGlyphs">CXCL12</text>
<text x="230.2" y="261.3" font-size="6" text-anchor="start" fill="#333">hi</text>
<path d="M65.9 408.3V298.9H77.8V408.3" fill="none" stroke="#000000" stroke-width="1.3"/>
<path d="M79.5 408.3V279.5H92V408.3" fill="none" stroke="#ff0000" stroke-width="1.3"/>
<path d="M100.2 408.3V311.3H112.8V408.3" fill="none" stroke="#000000" stroke-width="1.3"/>
<path d="M114.3 408.3V298H126.6V408.3" fill="none" stroke="#ff0000" stroke-width="1.3"/>
<path d="M134.6 408.3V319.3H147.2V408.3" fill="none" stroke="#000000" stroke-width="1.3"/>
<path d="M148.8 408.3V312.5H161.3V408.3" fill="none" stroke="#ff0000" stroke-width="1.3"/>
<path d="M169.1 408.3V343.2H181.7V408.3" fill="none" stroke="#000000" stroke-width="1.3"/>
<path d="M183.3 408.3V344H196.2V408.3" fill="none" stroke="#ff0000" stroke-width="1.3"/>
<path d="M203.7 408.3V374.4H216V408.3" fill="none" stroke="#000000" stroke-width="1.3"/>
<path d="M218.1 408.3V368.8H230.5V408.3" fill="none" stroke="#ff0000" stroke-width="1.3"/>
<circle cx="68" cy="299.2" r="2" fill="#000"/>
<circle cx="71" cy="299.2" r="2" fill="#000"/>
<circle cx="74" cy="299.2" r="2" fill="#000"/>
<circle cx="76.3" cy="299.2" r="2" fill="#000"/>
<line x1="86" y1="279.5" x2="86" y2="276.9" stroke="#000" stroke-width="1.3"/>
<line x1="83.4" y1="276.9" x2="88.6" y2="276.9" stroke="#000" stroke-width="1.3"/>
<path d="M83.9 275.89L88.1 275.89L86 272.11Z" fill="#ff0000"/>
<path d="M80.9 285.39L85.1 285.39L83 281.61Z" fill="#ff0000"/>
<path d="M86.5 282.99L90.7 282.99L88.6 279.21Z" fill="#ff0000"/>
<line x1="107.6" y1="311.3" x2="107.6" y2="307.8" stroke="#000" stroke-width="1.3"/>
<line x1="104.6" y1="307.8" x2="110.6" y2="307.8" stroke="#000" stroke-width="1.3"/>
<circle cx="103.4" cy="305.2" r="2.3" fill="#000"/>
<circle cx="108.6" cy="308.1" r="2.3" fill="#000"/>
<circle cx="106" cy="321.3" r="2.3" fill="#000"/>
<line x1="120.8" y1="298" x2="120.8" y2="293.4" stroke="#000" stroke-width="1.3"/>
<line x1="117.8" y1="293.4" x2="123.8" y2="293.4" stroke="#000" stroke-width="1.3"/>
<path d="M115.4 293.69L119.6 293.69L117.5 289.91Z" fill="#ff0000"/>
<path d="M121.2 297.89L125.4 297.89L123.3 294.11Z" fill="#ff0000"/>
<path d="M118.3 308.79L122.5 308.79L120.4 305.01Z" fill="#ff0000"/>
<line x1="140.8" y1="319.3" x2="140.8" y2="313" stroke="#000" stroke-width="1.3"/>
<line x1="137.9" y1="313" x2="143.7" y2="313" stroke="#000" stroke-width="1.3"/>
<circle cx="140.8" cy="309.1" r="2.3" fill="#000"/>
<circle cx="140.8" cy="316.7" r="2.3" fill="#000"/>
<circle cx="140.8" cy="333.3" r="2.3" fill="#000"/>
<line x1="155.2" y1="312.5" x2="155.2" y2="306.5" stroke="#000" stroke-width="1.3"/>
<line x1="152.8" y1="306.5" x2="157.6" y2="306.5" stroke="#000" stroke-width="1.3"/>
<path d="M150.1 306.09L154.3 306.09L152.2 302.31Z" fill="#ff0000"/>
<path d="M156.3 310.99L160.5 310.99L158.4 307.21Z" fill="#ff0000"/>
<path d="M152.7 327.49L156.9 327.49L154.8 323.71Z" fill="#ff0000"/>
<line x1="175.2" y1="343.2" x2="175.2" y2="336.7" stroke="#000" stroke-width="1.3"/>
<line x1="172.8" y1="336.7" x2="177.6" y2="336.7" stroke="#000" stroke-width="1.3"/>
<circle cx="175.2" cy="333.3" r="2.3" fill="#000"/>
<circle cx="175.2" cy="340.2" r="2.3" fill="#000"/>
<circle cx="175.2" cy="356.7" r="2.3" fill="#000"/>
<line x1="190" y1="344" x2="190" y2="338.6" stroke="#000" stroke-width="1.3"/>
<line x1="187.8" y1="338.6" x2="192.2" y2="338.6" stroke="#000" stroke-width="1.3"/>
<path d="M184.6 340.19L188.8 340.19L186.7 336.41Z" fill="#ff0000"/>
<path d="M190.4 341.29L194.6 341.29L192.5 337.51Z" fill="#ff0000"/>
<path d="M187.7 357.69L191.9 357.69L189.8 353.91Z" fill="#ff0000"/>
<line x1="210" y1="374.4" x2="210" y2="370.4" stroke="#000" stroke-width="1.3"/>
<line x1="207.3" y1="370.4" x2="212.7" y2="370.4" stroke="#000" stroke-width="1.3"/>
<circle cx="210" cy="366.2" r="2.3" fill="#000"/>
<circle cx="207.4" cy="380" r="2.3" fill="#000"/>
<circle cx="212.8" cy="378.2" r="2.3" fill="#000"/>
<line x1="224.4" y1="368.8" x2="224.4" y2="363.2" stroke="#000" stroke-width="1.3"/>
<line x1="221.9" y1="363.2" x2="226.9" y2="363.2" stroke="#000" stroke-width="1.3"/>
<path d="M222.2 359.69L226.4 359.69L224.3 355.91Z" fill="#ff0000"/>
<path d="M222.2 373.49L226.4 373.49L224.3 369.71Z" fill="#ff0000"/>
<path d="M222.2 380.39L226.4 380.39L224.3 376.61Z" fill="#ff0000"/>
<text x="85.2" y="267.2" font-size="10" text-anchor="middle" fill="#222">a</text>
<text x="155.3" y="300.4" font-size="10" text-anchor="middle" fill="#222">bb</text>
<text x="174.9" y="325.7" font-size="10" text-anchor="middle" fill="#222">aaa</text>
<text x="189.9" y="334.9" font-size="10" text-anchor="middle" fill="#222">bbb</text>
<text x="209" y="360.2" font-size="10" text-anchor="middle" fill="#222">aaa</text>
<text x="225" y="351" font-size="10" text-anchor="middle" fill="#222">bbb</text>
<text x="1.8" y="473.4" font-size="16.5" text-anchor="start" font-weight="bold" fill="#000">D</text>
<text x="119.8" y="481.4" font-size="15" text-anchor="start" font-weight="bold" fill="#000" textLength="42.6" lengthAdjust="spacingAndGlyphs">THP-1</text>
<line x1="75.2" y1="491.85" x2="75.2" y2="673.25" stroke="#000" stroke-width="1.3"/>
<line x1="71.6" y1="492.5" x2="75.2" y2="492.5" stroke="#000" stroke-width="1.3"/>
<text x="71" y="497.33" font-size="13.5" text-anchor="end" fill="#000" textLength="17.45" lengthAdjust="spacingAndGlyphs">2.0</text>
<line x1="71.6" y1="537.6" x2="75.2" y2="537.6" stroke="#000" stroke-width="1.3"/>
<text x="71" y="542.43" font-size="13.5" text-anchor="end" fill="#000" textLength="17.45" lengthAdjust="spacingAndGlyphs">1.5</text>
<line x1="71.6" y1="582.6" x2="75.2" y2="582.6" stroke="#000" stroke-width="1.3"/>
<text x="71" y="587.43" font-size="13.5" text-anchor="end" fill="#000" textLength="17.45" lengthAdjust="spacingAndGlyphs">1.0</text>
<line x1="71.6" y1="627.7" x2="75.2" y2="627.7" stroke="#000" stroke-width="1.3"/>
<text x="71" y="632.53" font-size="13.5" text-anchor="end" fill="#000" textLength="17.45" lengthAdjust="spacingAndGlyphs">0.5</text>
<line x1="71.6" y1="672.6" x2="75.2" y2="672.6" stroke="#000" stroke-width="1.3"/>
<text x="71" y="677.43" font-size="13.5" text-anchor="end" fill="#000" textLength="17.45" lengthAdjust="spacingAndGlyphs">0.0</text>
<line x1="75.2" y1="672.6" x2="207.7" y2="672.6" stroke="#000" stroke-width="1.3"/>
<line x1="97" y1="672.6" x2="97" y2="676" stroke="#000" stroke-width="1.3"/>
<text x="97" y="690" font-size="13" text-anchor="middle" fill="#000">0</text>
<line x1="140.8" y1="672.6" x2="140.8" y2="676" stroke="#000" stroke-width="1.3"/>
<text x="140.8" y="690" font-size="13" text-anchor="middle" fill="#000">2</text>
<line x1="185" y1="672.6" x2="185" y2="676" stroke="#000" stroke-width="1.3"/>
<text x="185" y="690" font-size="13" text-anchor="middle" fill="#000">4</text>
<text x="141.5" y="703.5" font-size="13" text-anchor="middle" fill="#000">NF-κBi (μM)</text>
<text x="31" y="578.7" font-size="13" text-anchor="middle" fill="#000" transform="rotate(-90 31 578.7)">mRNA expression of PD-L1</text>
<text x="47" y="580" font-size="13" text-anchor="middle" fill="#000" transform="rotate(-90 47 580)">(fold over 0 of 0 ng/ml CXCL12)</text>
<rect x="169.75" y="491.05" width="12.7" height="6" stroke="#222" stroke-width="1.3" fill="none"/>
<text x="189.4" y="496.5" font-size="10" text-anchor="start" fill="#333">0</text>
<rect x="169.75" y="503.95" width="12.7" height="6" stroke="#ff0000" stroke-width="1.3" fill="none"/>
<text x="190.2" y="510.9" font-size="9.9" text-anchor="start" fill="#333" textLength="35.4" lengthAdjust="spacingAndGlyphs">CXCL12</text>
<text x="226.2" y="508" font-size="6.5" text-anchor="start" fill="#333">hi</text>
<path d="M80.4 672.6V582.5H95.7V672.6" fill="none" stroke="#000000" stroke-width="1.3"/>
<path d="M98.3 672.6V527.6H114.2V672.6" fill="none" stroke="#ff0000" stroke-width="1.3"/>
<path d="M124.6 672.6V569.2H139.6V672.6" fill="none" stroke="#000000" stroke-width="1.3"/>
<path d="M142.3 672.6V591.8H158V672.6" fill="none" stroke="#ff0000" stroke-width="1.3"/>
<path d="M168.6 672.6V586.7H183.6V672.6" fill="none" stroke="#000000" stroke-width="1.3"/>
<path d="M186.5 672.6V590.3H202.1V672.6" fill="none" stroke="#ff0000" stroke-width="1.3"/>
<circle cx="83.4" cy="582.5" r="2" fill="#000"/>
<circle cx="85.8" cy="582.5" r="2" fill="#000"/>
<circle cx="88.2" cy="582.5" r="2" fill="#000"/>
<circle cx="90.6" cy="582.5" r="2" fill="#000"/>
<circle cx="92.8" cy="582.5" r="2" fill="#000"/>
<line x1="106.3" y1="527.6" x2="106.3" y2="518.7" stroke="#000" stroke-width="1.3"/>
<line x1="102.9" y1="518.7" x2="109.7" y2="518.7" stroke="#000" stroke-width="1.3"/>
<path d="M104.15 499.56L108.05 499.56L106.1 496.05Z" fill="#ff0000"/>
<path d="M104.15 521.25L108.05 521.25L106.1 517.75Z" fill="#ff0000"/>
<path d="M101.05 533.55L104.95 533.55L103 530.04Z" fill="#ff0000"/>
<path d="M107.35 539.15L111.25 539.15L109.3 535.64Z" fill="#ff0000"/>
<path d="M104.15 556.46L108.05 556.46L106.1 552.95Z" fill="#ff0000"/>
<line x1="132.1" y1="569.2" x2="132.1" y2="556.9" stroke="#000" stroke-width="1.3"/>
<line x1="128.5" y1="556.9" x2="135.7" y2="556.9" stroke="#000" stroke-width="1.3"/>
<circle cx="132.1" cy="540.8" r="2.1" fill="#000"/>
<circle cx="132.1" cy="550.6" r="2.1" fill="#000"/>
<circle cx="132.1" cy="564.6" r="2.1" fill="#000"/>
<circle cx="132.1" cy="578" r="2.1" fill="#000"/>
<circle cx="132.1" cy="613.4" r="2.1" fill="#000"/>
<line x1="150.1" y1="591.8" x2="150.1" y2="586.9" stroke="#000" stroke-width="1.3"/>
<line x1="146.3" y1="586.9" x2="153.9" y2="586.9" stroke="#000" stroke-width="1.3"/>
<path d="M148.25 575.75L152.15 575.75L150.2 572.25Z" fill="#ff0000"/>
<path d="M145.25 591.55L149.15 591.55L147.2 588.04Z" fill="#ff0000"/>
<path d="M150.85 600.75L154.75 600.75L152.8 597.25Z" fill="#ff0000"/>
<path d="M154.15 597.05L158.05 597.05L156.1 593.54Z" fill="#ff0000"/>
<path d="M144.95 605.96L148.85 605.96L146.9 602.45Z" fill="#ff0000"/>
<line x1="176.1" y1="586.7" x2="176.1" y2="578.4" stroke="#000" stroke-width="1.3"/>
<line x1="172.5" y1="578.4" x2="179.7" y2="578.4" stroke="#000" stroke-width="1.3"/>
<circle cx="176.1" cy="556" r="2.1" fill="#000"/>
<circle cx="176.1" cy="580.2" r="2.1" fill="#000"/>
<circle cx="172.8" cy="595" r="2.1" fill="#000"/>
<circle cx="179.1" cy="595.7" r="2.1" fill="#000"/>
<circle cx="176.1" cy="606" r="2.1" fill="#000"/>
<line x1="194.2" y1="590.3" x2="194.2" y2="579.9" stroke="#000" stroke-width="1.3"/>
<line x1="190.4" y1="579.9" x2="198" y2="579.9" stroke="#000" stroke-width="1.3"/>
<path d="M192.25 552.15L196.15 552.15L194.2 548.64Z" fill="#ff0000"/>
<path d="M192.25 570.55L196.15 570.55L194.2 567.04Z" fill="#ff0000"/>
<path d="M192.25 594.86L196.15 594.86L194.2 591.35Z" fill="#ff0000"/>
<path d="M192.25 604.65L196.15 604.65L194.2 601.14Z" fill="#ff0000"/>
<path d="M195.35 613.86L199.25 613.86L197.3 610.35Z" fill="#ff0000"/>
<path d="M189.05 616.86L192.95 616.86L191 613.35Z" fill="#ff0000"/>
<text x="106.8" y="493.9" font-size="11" text-anchor="middle" fill="#222">aaa</text>
<text x="150.4" y="568.5" font-size="11" text-anchor="middle" fill="#222">bbb</text>
<text x="195.2" y="544.3" font-size="11" text-anchor="middle" fill="#222">bbb</text>
<text x="248.2" y="377.9" font-size="17" text-anchor="start" font-weight="bold" fill="#000">E</text>
<line x1="269.4" y1="389" x2="269.4" y2="692.8" stroke="#333" stroke-width="1.1"/>
<path d="M265.8 389.7L269.5 382.2L273.2 389.7Z" stroke="#000" stroke-width="0" fill="#000000"/>
<line x1="269.4" y1="692.8" x2="415" y2="692.8" stroke="#333" stroke-width="1.1"/>
<path d="M414 689.4L422.4 692.8L414 696.2Z" stroke="#000" stroke-width="0" fill="#000000"/>
<text x="266.8" y="536.5" font-size="12.85" text-anchor="middle" fill="#000" transform="rotate(-90 266.8 536.5)">Percent of Max</text>
<text x="346" y="706" font-size="13" text-anchor="middle" fill="#000">PD-L1</text>
<text x="353.5" y="380.3" font-size="13" text-anchor="middle" font-weight="bold" fill="#000">0</text>
<text x="323.6" y="541.3" font-size="13.3" text-anchor="start" font-weight="bold" fill="#000">CXCL12<tspan font-size="8.2" dy="-3.6">hi</tspan></text>
<line x1="289.3" y1="384.7" x2="419" y2="384.7" stroke="#a4a4a4" stroke-width="1.3"/>
<line x1="289.3" y1="384.7" x2="289.3" y2="515" stroke="#a4a4a4" stroke-width="1.3"/>
<line x1="289.3" y1="515" x2="419" y2="515" stroke="#a4a4a4" stroke-width="1.3"/>
<line x1="284.8" y1="515" x2="289.3" y2="515" stroke="#a4a4a4" stroke-width="1"/>
<text x="284.7" y="517.6" font-size="7.5" text-anchor="end" fill="#3a4150">0</text>
<line x1="287.1" y1="508.49" x2="289.3" y2="508.49" stroke="#a4a4a4" stroke-width="1"/>
<line x1="287.1" y1="501.97" x2="289.3" y2="501.97" stroke="#a4a4a4" stroke-width="1"/>
<line x1="287.1" y1="495.45" x2="289.3" y2="495.45" stroke="#a4a4a4" stroke-width="1"/>
<line x1="287.1" y1="488.94" x2="289.3" y2="488.94" stroke="#a4a4a4" stroke-width="1"/>
<line x1="284.8" y1="482.43" x2="289.3" y2="482.43" stroke="#a4a4a4" stroke-width="1"/>
<text x="284.7" y="485.03" font-size="7.5" text-anchor="end" fill="#3a4150">25</text>
<line x1="287.1" y1="475.91" x2="289.3" y2="475.91" stroke="#a4a4a4" stroke-width="1"/>
<line x1="287.1" y1="469.39" x2="289.3" y2="469.39" stroke="#a4a4a4" stroke-width="1"/>
<line x1="287.1" y1="462.88" x2="289.3" y2="462.88" stroke="#a4a4a4" stroke-width="1"/>
<line x1="287.1" y1="456.37" x2="289.3" y2="456.37" stroke="#a4a4a4" stroke-width="1"/>
<line x1="284.8" y1="449.85" x2="289.3" y2="449.85" stroke="#a4a4a4" stroke-width="1"/>
<text x="284.7" y="452.45" font-size="7.5" text-anchor="end" fill="#3a4150">50</text>
<line x1="287.1" y1="443.34" x2="289.3" y2="443.34" stroke="#a4a4a4" stroke-width="1"/>
<line x1="287.1" y1="436.82" x2="289.3" y2="436.82" stroke="#a4a4a4" stroke-width="1"/>
<line x1="287.1" y1="430.31" x2="289.3" y2="430.31" stroke="#a4a4a4" stroke-width="1"/>
<line x1="287.1" y1="423.79" x2="289.3" y2="423.79" stroke="#a4a4a4" stroke-width="1"/>
<line x1="284.8" y1="417.27" x2="289.3" y2="417.27" stroke="#a4a4a4" stroke-width="1"/>
<text x="284.7" y="419.88" font-size="7.5" text-anchor="end" fill="#3a4150">75</text>
<line x1="287.1" y1="410.76" x2="289.3" y2="410.76" stroke="#a4a4a4" stroke-width="1"/>
<line x1="287.1" y1="404.25" x2="289.3" y2="404.25" stroke="#a4a4a4" stroke-width="1"/>
<line x1="287.1" y1="397.73" x2="289.3" y2="397.73" stroke="#a4a4a4" stroke-width="1"/>
<line x1="287.1" y1="391.21" x2="289.3" y2="391.21" stroke="#a4a4a4" stroke-width="1"/>
<line x1="284.8" y1="384.7" x2="289.3" y2="384.7" stroke="#a4a4a4" stroke-width="1"/>
<text x="284.7" y="387.3" font-size="7.5" text-anchor="end" fill="#3a4150">100</text>
<line x1="289.3" y1="515" x2="289.3" y2="518.5" stroke="#a4a4a4" stroke-width="1"/>
<text x="289.7" y="527" font-size="7.5" text-anchor="end" fill="#3a4150">10</text>
<text x="289.9" y="523.3" font-size="4" text-anchor="start" fill="#3a4150">0</text>
<line x1="298.03" y1="515" x2="298.03" y2="517" stroke="#a4a4a4" stroke-width="1"/>
<line x1="303.14" y1="515" x2="303.14" y2="517" stroke="#a4a4a4" stroke-width="1"/>
<line x1="306.76" y1="515" x2="306.76" y2="517" stroke="#a4a4a4" stroke-width="1"/>
<line x1="309.57" y1="515" x2="309.57" y2="517" stroke="#a4a4a4" stroke-width="1"/>
<line x1="311.87" y1="515" x2="311.87" y2="517" stroke="#a4a4a4" stroke-width="1"/>
<line x1="313.81" y1="515" x2="313.81" y2="517" stroke="#a4a4a4" stroke-width="1"/>
<line x1="315.49" y1="515" x2="315.49" y2="517" stroke="#a4a4a4" stroke-width="1"/>
<line x1="316.97" y1="515" x2="316.97" y2="517" stroke="#a4a4a4" stroke-width="1"/>
<line x1="318.3" y1="515" x2="318.3" y2="518.5" stroke="#a4a4a4" stroke-width="1"/>
<text x="318.7" y="527" font-size="7.5" text-anchor="end" fill="#3a4150">10</text>
<text x="318.9" y="523.3" font-size="4" text-anchor="start" fill="#3a4150">1</text>
<line x1="327.03" y1="515" x2="327.03" y2="517" stroke="#a4a4a4" stroke-width="1"/>
<line x1="332.14" y1="515" x2="332.14" y2="517" stroke="#a4a4a4" stroke-width="1"/>
<line x1="335.76" y1="515" x2="335.76" y2="517" stroke="#a4a4a4" stroke-width="1"/>
<line x1="338.57" y1="515" x2="338.57" y2="517" stroke="#a4a4a4" stroke-width="1"/>
<line x1="340.87" y1="515" x2="340.87" y2="517" stroke="#a4a4a4" stroke-width="1"/>
<line x1="342.81" y1="515" x2="342.81" y2="517" stroke="#a4a4a4" stroke-width="1"/>
<line x1="344.49" y1="515" x2="344.49" y2="517" stroke="#a4a4a4" stroke-width="1"/>
<line x1="345.97" y1="515" x2="345.97" y2="517" stroke="#a4a4a4" stroke-width="1"/>
<line x1="347.4" y1="515" x2="347.4" y2="518.5" stroke="#a4a4a4" stroke-width="1"/>
<text x="347.8" y="527" font-size="7.5" text-anchor="end" fill="#3a4150">10</text>
<text x="348" y="523.3" font-size="4" text-anchor="start" fill="#3a4150">2</text>
<line x1="356.13" y1="515" x2="356.13" y2="517" stroke="#a4a4a4" stroke-width="1"/>
<line x1="361.24" y1="515" x2="361.24" y2="517" stroke="#a4a4a4" stroke-width="1"/>
<line x1="364.86" y1="515" x2="364.86" y2="517" stroke="#a4a4a4" stroke-width="1"/>
<line x1="367.67" y1="515" x2="367.67" y2="517" stroke="#a4a4a4" stroke-width="1"/>
<line x1="369.97" y1="515" x2="369.97" y2="517" stroke="#a4a4a4" stroke-width="1"/>
<line x1="371.91" y1="515" x2="371.91" y2="517" stroke="#a4a4a4" stroke-width="1"/>
<line x1="373.59" y1="515" x2="373.59" y2="517" stroke="#a4a4a4" stroke-width="1"/>
<line x1="375.07" y1="515" x2="375.07" y2="517" stroke="#a4a4a4" stroke-width="1"/>
<line x1="376.3" y1="515" x2="376.3" y2="518.5" stroke="#a4a4a4" stroke-width="1"/>
<text x="376.7" y="527" font-size="7.5" text-anchor="end" fill="#3a4150">10</text>
<text x="376.9" y="523.3" font-size="4" text-anchor="start" fill="#3a4150">3</text>
<line x1="385.03" y1="515" x2="385.03" y2="517" stroke="#a4a4a4" stroke-width="1"/>
<line x1="390.14" y1="515" x2="390.14" y2="517" stroke="#a4a4a4" stroke-width="1"/>
<line x1="393.76" y1="515" x2="393.76" y2="517" stroke="#a4a4a4" stroke-width="1"/>
<line x1="396.57" y1="515" x2="396.57" y2="517" stroke="#a4a4a4" stroke-width="1"/>
<line x1="398.87" y1="515" x2="398.87" y2="517" stroke="#a4a4a4" stroke-width="1"/>
<line x1="400.81" y1="515" x2="400.81" y2="517" stroke="#a4a4a4" stroke-width="1"/>
<line x1="402.49" y1="515" x2="402.49" y2="517" stroke="#a4a4a4" stroke-width="1"/>
<line x1="403.97" y1="515" x2="403.97" y2="517" stroke="#a4a4a4" stroke-width="1"/>
<line x1="405.3" y1="515" x2="405.3" y2="518.5" stroke="#a4a4a4" stroke-width="1"/>
<text x="405.7" y="527" font-size="7.5" text-anchor="end" fill="#3a4150">10</text>
<text x="405.9" y="523.3" font-size="4" text-anchor="start" fill="#3a4150">4</text>
<line x1="414.03" y1="515" x2="414.03" y2="517" stroke="#a4a4a4" stroke-width="1"/>
<line x1="290.45" y1="385.2" x2="290.45" y2="514.5" stroke="#fdbf12" stroke-width="1.1"/>
<line x1="292.6" y1="385.2" x2="292.6" y2="514.5" stroke="#fdbf12" stroke-width="1.1"/>
<polyline points="293.17,514.89 294.71,515.15 296.24,514.89 298.28,496.49 300.33,512.84 302.37,494.45 304.42,514.89 306.46,492.41 307.99,492.9 309.52,494.45 310.89,494.87 312.25,495.67 313.61,496.49 315.15,485.61 316.68,474.01 318.72,498.54 320.25,475.54 321.79,453.57 322.81,471.97 324.85,447.44 326.9,441.31 328.43,440.6 329.96,439.27 331.49,435.65 333.03,431.09 335.07,414.74 337.12,386.13 338.55,388.17 340.18,392.26 342.22,400.44 343.76,415.85 345.29,431.09 346.82,446.31 348.36,461.75 349.89,470.3 351.42,478.1 352.95,488.65 354.49,498.54 356.02,502.15 357.55,504.67 359.09,508.54 360.62,512.84 362.15,513.2 363.68,513.86 365,513.7 366.31,513.7 367.63,514.42 368.94,514.56 370.25,514.68 371.57,515.14 372.88,514.89" fill="none" stroke="#fdbf12" stroke-width="1.1" stroke-linejoin="round"/>
<polyline points="297.26,514.89 298.72,513.68 300.18,512.24 301.64,511.12 303.1,510.25 304.56,508.83 306.02,507.59 307.48,506.71 309.52,509.78 310.89,508.62 312.25,506.78 313.61,505.69 315.15,507.06 316.68,508.76 318.21,504.35 319.74,500.58 321.79,488.32 323.32,485.34 324.85,482.19 326.22,478.01 327.58,473.74 328.94,469.92 330.47,465.52 332.01,461.75 333.54,456.74 335.07,451.53 336.6,445.91 338.14,441.31 339.98,439.06 341.34,433.78 342.7,428.13 344.06,422.1 345.9,409.63 347.44,400.52 348.97,391.85 350.4,388.35 351.83,385.93 353.36,390.22 354.9,393.9 356.84,397.49 358.78,401.87 360.41,430.07 361.44,455.01 363.89,462.98 365.32,471.24 366.75,478.92 368.18,486.37 369.61,494.86 370.97,498.27 372.34,502.73 373.7,506.71 375.18,508.25 376.66,509.52 378.14,510.74 379.62,511.82 381,511.5 382.38,512.1 383.76,512.71 385.14,512.43 386.71,512.77 388.28,512.85 389.84,512.84 391.22,512.9 392.6,512.98 393.98,512.99 395.36,513.25 396.86,513.49 398.36,514.18 399.86,513.86 401.29,514.29 402.72,513.9 404.15,514.62 405.58,514.36 407.01,514.42 408.44,514.43 409.87,514.48" fill="none" stroke="#808080" stroke-width="1.1" stroke-linejoin="round"/>
<polyline points="297.26,514.89 299.31,502.62 300.84,506.81 302.37,510.8 303.9,511.37 305.44,512.84 307.48,503.65 308.84,502.85 310.21,502.99 311.57,502.62 313.1,503.32 314.63,504.67 316.17,499.88 317.7,494.45 319.23,488.11 320.77,482.19 322.81,471.97 324.34,468.52 325.87,465.84 327.92,461.75 329.45,456.86 330.98,451.53 333.03,443.36 335.07,433.14 337.12,420.87 339.16,412.7 341.2,400.44 343.25,392.26 344.57,389.35 345.9,387.15 347.33,386.13 348.66,395.05 349.99,403.71 351.42,408.42 352.85,413.72 354.9,429.46 356.33,438.85 357.76,449.28 359.29,454.66 360.82,461.14 362.36,467.71 363.89,475.03 365.83,483.29 367.77,490.97 369.71,496.86 371.65,502.83 372.98,504.07 374.31,505.18 375.64,506.56 376.97,508.34 378.3,509.28 379.62,510.8 381.14,510.92 382.65,511.74 384.16,512.33 385.67,513.33 387.19,513.86 388.55,514.44 389.91,514.17 391.27,514.43 392.64,514.83 394,515.1 395.36,514.89" fill="none" stroke="#1aa64a" stroke-width="1.1" stroke-linejoin="round"/>
<line x1="361.2" y1="384.6" x2="361.2" y2="515" stroke="#000000" stroke-width="2.2"/>
<line x1="419" y1="384.6" x2="419" y2="515" stroke="#000000" stroke-width="2.2"/>
<line x1="361.2" y1="418.8" x2="419" y2="418.8" stroke="#000000" stroke-width="2.2"/>
<text x="364.4" y="414" font-size="16.3" text-anchor="start" font-weight="bold" fill="#000" textLength="18.8" lengthAdjust="spacingAndGlyphs">R1</text>
<line x1="289.3" y1="546.5" x2="419.5" y2="546.5" stroke="#a4a4a4" stroke-width="1.3"/>
<line x1="289.3" y1="546.5" x2="289.3" y2="677.6" stroke="#a4a4a4" stroke-width="1.3"/>
<line x1="289.3" y1="677.6" x2="419.5" y2="677.6" stroke="#a4a4a4" stroke-width="1.3"/>
<line x1="284.8" y1="677.6" x2="289.3" y2="677.6" stroke="#a4a4a4" stroke-width="1"/>
<text x="284.7" y="680.2" font-size="7.5" text-anchor="end" fill="#3a4150">0</text>
<line x1="287.1" y1="671.05" x2="289.3" y2="671.05" stroke="#a4a4a4" stroke-width="1"/>
<line x1="287.1" y1="664.49" x2="289.3" y2="664.49" stroke="#a4a4a4" stroke-width="1"/>
<line x1="287.1" y1="657.94" x2="289.3" y2="657.94" stroke="#a4a4a4" stroke-width="1"/>
<line x1="287.1" y1="651.38" x2="289.3" y2="651.38" stroke="#a4a4a4" stroke-width="1"/>
<line x1="284.8" y1="644.83" x2="289.3" y2="644.83" stroke="#a4a4a4" stroke-width="1"/>
<text x="284.7" y="647.43" font-size="7.5" text-anchor="end" fill="#3a4150">25</text>
<line x1="287.1" y1="638.27" x2="289.3" y2="638.27" stroke="#a4a4a4" stroke-width="1"/>
<line x1="287.1" y1="631.72" x2="289.3" y2="631.72" stroke="#a4a4a4" stroke-width="1"/>
<line x1="287.1" y1="625.16" x2="289.3" y2="625.16" stroke="#a4a4a4" stroke-width="1"/>
<line x1="287.1" y1="618.61" x2="289.3" y2="618.61" stroke="#a4a4a4" stroke-width="1"/>
<line x1="284.8" y1="612.05" x2="289.3" y2="612.05" stroke="#a4a4a4" stroke-width="1"/>
<text x="284.7" y="614.65" font-size="7.5" text-anchor="end" fill="#3a4150">50</text>
<line x1="287.1" y1="605.5" x2="289.3" y2="605.5" stroke="#a4a4a4" stroke-width="1"/>
<line x1="287.1" y1="598.94" x2="289.3" y2="598.94" stroke="#a4a4a4" stroke-width="1"/>
<line x1="287.1" y1="592.38" x2="289.3" y2="592.38" stroke="#a4a4a4" stroke-width="1"/>
<line x1="287.1" y1="585.83" x2="289.3" y2="585.83" stroke="#a4a4a4" stroke-width="1"/>
<line x1="284.8" y1="579.27" x2="289.3" y2="579.27" stroke="#a4a4a4" stroke-width="1"/>
<text x="284.7" y="581.88" font-size="7.5" text-anchor="end" fill="#3a4150">75</text>
<line x1="287.1" y1="572.72" x2="289.3" y2="572.72" stroke="#a4a4a4" stroke-width="1"/>
<line x1="287.1" y1="566.16" x2="289.3" y2="566.16" stroke="#a4a4a4" stroke-width="1"/>
<line x1="287.1" y1="559.61" x2="289.3" y2="559.61" stroke="#a4a4a4" stroke-width="1"/>
<line x1="287.1" y1="553.05" x2="289.3" y2="553.05" stroke="#a4a4a4" stroke-width="1"/>
<line x1="284.8" y1="546.5" x2="289.3" y2="546.5" stroke="#a4a4a4" stroke-width="1"/>
<text x="284.7" y="549.1" font-size="7.5" text-anchor="end" fill="#3a4150">100</text>
<line x1="289.3" y1="677.6" x2="289.3" y2="681.1" stroke="#a4a4a4" stroke-width="1"/>
<text x="289.7" y="689.6" font-size="7.5" text-anchor="end" fill="#3a4150">10</text>
<text x="289.9" y="685.9" font-size="4" text-anchor="start" fill="#3a4150">0</text>
<line x1="298.03" y1="677.6" x2="298.03" y2="679.6" stroke="#a4a4a4" stroke-width="1"/>
<line x1="303.14" y1="677.6" x2="303.14" y2="679.6" stroke="#a4a4a4" stroke-width="1"/>
<line x1="306.76" y1="677.6" x2="306.76" y2="679.6" stroke="#a4a4a4" stroke-width="1"/>
<line x1="309.57" y1="677.6" x2="309.57" y2="679.6" stroke="#a4a4a4" stroke-width="1"/>
<line x1="311.87" y1="677.6" x2="311.87" y2="679.6" stroke="#a4a4a4" stroke-width="1"/>
<line x1="313.81" y1="677.6" x2="313.81" y2="679.6" stroke="#a4a4a4" stroke-width="1"/>
<line x1="315.49" y1="677.6" x2="315.49" y2="679.6" stroke="#a4a4a4" stroke-width="1"/>
<line x1="316.97" y1="677.6" x2="316.97" y2="679.6" stroke="#a4a4a4" stroke-width="1"/>
<line x1="318.3" y1="677.6" x2="318.3" y2="681.1" stroke="#a4a4a4" stroke-width="1"/>
<text x="318.7" y="689.6" font-size="7.5" text-anchor="end" fill="#3a4150">10</text>
<text x="318.9" y="685.9" font-size="4" text-anchor="start" fill="#3a4150">1</text>
<line x1="327.03" y1="677.6" x2="327.03" y2="679.6" stroke="#a4a4a4" stroke-width="1"/>
<line x1="332.14" y1="677.6" x2="332.14" y2="679.6" stroke="#a4a4a4" stroke-width="1"/>
<line x1="335.76" y1="677.6" x2="335.76" y2="679.6" stroke="#a4a4a4" stroke-width="1"/>
<line x1="338.57" y1="677.6" x2="338.57" y2="679.6" stroke="#a4a4a4" stroke-width="1"/>
<line x1="340.87" y1="677.6" x2="340.87" y2="679.6" stroke="#a4a4a4" stroke-width="1"/>
<line x1="342.81" y1="677.6" x2="342.81" y2="679.6" stroke="#a4a4a4" stroke-width="1"/>
<line x1="344.49" y1="677.6" x2="344.49" y2="679.6" stroke="#a4a4a4" stroke-width="1"/>
<line x1="345.97" y1="677.6" x2="345.97" y2="679.6" stroke="#a4a4a4" stroke-width="1"/>
<line x1="347.4" y1="677.6" x2="347.4" y2="681.1" stroke="#a4a4a4" stroke-width="1"/>
<text x="347.8" y="689.6" font-size="7.5" text-anchor="end" fill="#3a4150">10</text>
<text x="348" y="685.9" font-size="4" text-anchor="start" fill="#3a4150">2</text>
<line x1="356.13" y1="677.6" x2="356.13" y2="679.6" stroke="#a4a4a4" stroke-width="1"/>
<line x1="361.24" y1="677.6" x2="361.24" y2="679.6" stroke="#a4a4a4" stroke-width="1"/>
<line x1="364.86" y1="677.6" x2="364.86" y2="679.6" stroke="#a4a4a4" stroke-width="1"/>
<line x1="367.67" y1="677.6" x2="367.67" y2="679.6" stroke="#a4a4a4" stroke-width="1"/>
<line x1="369.97" y1="677.6" x2="369.97" y2="679.6" stroke="#a4a4a4" stroke-width="1"/>
<line x1="371.91" y1="677.6" x2="371.91" y2="679.6" stroke="#a4a4a4" stroke-width="1"/>
<line x1="373.59" y1="677.6" x2="373.59" y2="679.6" stroke="#a4a4a4" stroke-width="1"/>
<line x1="375.07" y1="677.6" x2="375.07" y2="679.6" stroke="#a4a4a4" stroke-width="1"/>
<line x1="376.3" y1="677.6" x2="376.3" y2="681.1" stroke="#a4a4a4" stroke-width="1"/>
<text x="376.7" y="689.6" font-size="7.5" text-anchor="end" fill="#3a4150">10</text>
<text x="376.9" y="685.9" font-size="4" text-anchor="start" fill="#3a4150">3</text>
<line x1="385.03" y1="677.6" x2="385.03" y2="679.6" stroke="#a4a4a4" stroke-width="1"/>
<line x1="390.14" y1="677.6" x2="390.14" y2="679.6" stroke="#a4a4a4" stroke-width="1"/>
<line x1="393.76" y1="677.6" x2="393.76" y2="679.6" stroke="#a4a4a4" stroke-width="1"/>
<line x1="396.57" y1="677.6" x2="396.57" y2="679.6" stroke="#a4a4a4" stroke-width="1"/>
<line x1="398.87" y1="677.6" x2="398.87" y2="679.6" stroke="#a4a4a4" stroke-width="1"/>
<line x1="400.81" y1="677.6" x2="400.81" y2="679.6" stroke="#a4a4a4" stroke-width="1"/>
<line x1="402.49" y1="677.6" x2="402.49" y2="679.6" stroke="#a4a4a4" stroke-width="1"/>
<line x1="403.97" y1="677.6" x2="403.97" y2="679.6" stroke="#a4a4a4" stroke-width="1"/>
<line x1="405.3" y1="677.6" x2="405.3" y2="681.1" stroke="#a4a4a4" stroke-width="1"/>
<text x="405.7" y="689.6" font-size="7.5" text-anchor="end" fill="#3a4150">10</text>
<text x="405.9" y="685.9" font-size="4" text-anchor="start" fill="#3a4150">4</text>
<line x1="414.03" y1="677.6" x2="414.03" y2="679.6" stroke="#a4a4a4" stroke-width="1"/>
<line x1="290.45" y1="547" x2="290.45" y2="677.1" stroke="#fdbf12" stroke-width="1.1"/>
<line x1="292.6" y1="547" x2="292.6" y2="677.1" stroke="#fdbf12" stroke-width="1.1"/>
<polyline points="293.17,676.89 294.71,677.37 296.24,676.89 298.28,658.49 300.33,674.84 302.37,656.45 304.42,676.89 306.46,655.43 307.99,656.52 309.52,657.47 310.89,658.35 312.25,658.42 313.61,658.49 315.15,647.33 316.68,636.01 318.72,660.54 320.25,638.15 321.79,615.57 322.81,633.97 324.85,609.44 326.9,603.31 328.43,602.23 329.96,601.27 331.49,595.57 333.03,589.01 335.07,572.66 336.4,559.94 337.73,548.13 339.16,550.17 341.2,558.35 342.74,565.75 344.27,572.66 346.31,593.09 347.84,607.98 349.38,623.75 350.91,633.7 352.44,644.19 353.98,653.24 355.51,662.58 357.04,666.85 358.57,670.76 360.11,672.65 361.64,674.84 363.34,675.42 365.05,676.44 366.75,676.89 368.28,677.32 369.82,676.77 371.35,677.56 372.88,677.3" fill="none" stroke="#fdbf12" stroke-width="1.1" stroke-linejoin="round"/>
<polyline points="296.24,676.89 297.77,671.49 299.31,666.67 301.35,672.8 302.88,670.98 304.42,668.71 305.44,676.89 307.48,664.62 308.84,665.08 310.21,666.27 311.57,666.67 313.1,668.07 314.63,668.71 316.68,656.45 318.72,666.67 320.77,640.1 322.81,646.23 324.34,638.46 325.87,629.88 327.41,626.06 328.94,621.71 330.47,617.79 332.01,613.53 333.54,603.86 335.07,595.14 336.6,586.22 338.14,576.74 340.18,562.44 342.22,556.31 344.68,557.33 346.31,550.17 347.95,548.13 349.99,560.39 352.44,562.44 354.49,576.74 356.53,574.7 358.57,589.01 361.03,603.31 362.36,612.21 363.68,621.71 365.22,625.96 366.75,629.88 368.11,634.24 369.47,638.87 370.84,644.19 372.2,647.21 373.56,649.35 374.92,652.36 376.29,655.15 377.65,658.29 379.01,660.54 380.37,661.48 381.74,662.85 383.1,664.62 384.46,666.99 385.82,668.31 387.19,670.76 388.55,671.96 389.91,672.59 391.27,672.8 392.64,673.91 394,673.89 395.36,674.84 396.72,674.87 398.09,675.88 399.45,676.48 400.81,676.01 402.17,676.95 403.54,677.23 404.9,676.41 406.26,677.07 407.62,676.89 409.08,676.59 410.54,677.05 412,677.35 413.46,677.06 414.92,677.18 416.38,676.44 417.84,676.89" fill="none" stroke="#ff0d0d" stroke-width="1.1" stroke-linejoin="round"/>
<polyline points="297.26,676.89 298.8,673.21 300.33,668.71 301.86,670.98 303.39,672.8 304.93,668.76 306.46,664.62 307.99,664.75 309.52,665.65 310.89,665.99 312.25,666.18 313.61,666.67 315.15,660.54 316.68,654.41 318.72,656.45 320.77,638.06 322.3,633.69 323.83,629.88 325.19,627.57 326.56,625.43 327.92,623.75 329.45,618.53 330.98,613.53 332.52,608.42 334.05,603.31 335.58,594.98 337.12,586.96 339.16,570.61 341.2,560.39 343.25,554.26 344.68,548.13 346.31,556.31 348.36,554.26 350.4,578.79 352.44,574.7 354.49,582.87 356.53,596.16 358.06,599.22 359.6,603.31 361.64,621.71 363.68,636.01 365.22,644.29 366.75,652.36 368.11,656.55 369.47,660.04 370.84,664.62 372.2,666.52 373.56,669.11 374.92,670.76 376.46,671.26 377.99,672.54 379.52,674.05 381.06,674.84 382.59,675.58 384.12,675.09 385.65,675.3 387.19,675.86 388.55,676.54 389.91,675.69 391.27,676.39 392.64,676.95 394,676.98 395.36,676.89" fill="none" stroke="#1aa64a" stroke-width="1.1" stroke-linejoin="round"/>
<line x1="361.6" y1="546.5" x2="361.6" y2="677.6" stroke="#000000" stroke-width="2.2"/>
<line x1="419.5" y1="546.5" x2="419.5" y2="677.6" stroke="#000000" stroke-width="2.2"/>
<line x1="361.6" y1="570.2" x2="419.5" y2="570.2" stroke="#000000" stroke-width="2.2"/>
<text x="364.6" y="564.9" font-size="16.3" text-anchor="start" font-weight="bold" fill="#000" textLength="18.8" lengthAdjust="spacingAndGlyphs">R1</text>
<rect x="424.1" y="387.7" width="13.6" height="13.2" fill="#fdbf12"/>
<text x="441.2" y="397.3" font-size="11.6" text-anchor="start" fill="#000">NC</text>
<rect x="424.1" y="411.6" width="13.6" height="13" fill="#808080"/>
<text x="441.2" y="421.4" font-size="11.6" text-anchor="start" fill="#000">N0</text>
<rect x="424.1" y="435.1" width="13.6" height="13.6" fill="#1aa64a"/>
<text x="441.2" y="445" font-size="11.6" text-anchor="start" fill="#000">N2</text>
<rect x="424.1" y="550" width="13.6" height="13.2" fill="#fdbf12"/>
<text x="441.2" y="559.6" font-size="11.6" text-anchor="start" fill="#000">NC</text>
<rect x="424.1" y="574.3" width="13.6" height="12.9" fill="#ff0d0d"/>
<text x="441.2" y="583.9" font-size="11.6" text-anchor="start" fill="#000">N0</text>
<rect x="424.1" y="598.2" width="13.6" height="12.9" fill="#1aa64a"/>
<text x="441.2" y="607.7" font-size="11.6" text-anchor="start" fill="#000">N2</text>
<text x="569.2" y="435.8" font-size="12" text-anchor="middle" font-weight="bold" fill="#000">THP-1</text>
<line x1="513" y1="445.15" x2="513" y2="621.15" stroke="#000" stroke-width="1.3"/>
<line x1="508.6" y1="445.8" x2="513" y2="445.8" stroke="#000" stroke-width="1.3"/>
<text x="508.5" y="450.38" font-size="12.8" text-anchor="end" fill="#000" textLength="16.37" lengthAdjust="spacingAndGlyphs">1.5</text>
<line x1="508.6" y1="504.3" x2="513" y2="504.3" stroke="#000" stroke-width="1.3"/>
<text x="508.5" y="508.88" font-size="12.8" text-anchor="end" fill="#000" textLength="16.37" lengthAdjust="spacingAndGlyphs">1.0</text>
<line x1="508.6" y1="562.4" x2="513" y2="562.4" stroke="#000" stroke-width="1.3"/>
<text x="508.5" y="566.98" font-size="12.8" text-anchor="end" fill="#000" textLength="16.37" lengthAdjust="spacingAndGlyphs">0.5</text>
<line x1="508.6" y1="620.5" x2="513" y2="620.5" stroke="#000" stroke-width="1.3"/>
<text x="508.5" y="625.08" font-size="12.8" text-anchor="end" fill="#000" textLength="16.37" lengthAdjust="spacingAndGlyphs">0.0</text>
<line x1="513" y1="620.5" x2="624.5" y2="620.5" stroke="#000" stroke-width="1.3"/>
<line x1="540.6" y1="620.5" x2="540.6" y2="624" stroke="#000" stroke-width="1.3"/>
<text x="540.6" y="636.8" font-size="12.3" text-anchor="middle" fill="#000">0</text>
<line x1="596" y1="620.5" x2="596" y2="624" stroke="#000" stroke-width="1.3"/>
<text x="596" y="636.8" font-size="12.3" text-anchor="middle" fill="#000">2</text>
<text x="569.8" y="650.2" font-size="12.1" text-anchor="middle" fill="#000">NF-κBi (μM)</text>
<text x="472" y="531.8" font-size="12.4" text-anchor="middle" fill="#000" transform="rotate(-90 472 531.8)">PD-L1 expression</text>
<text x="486.3" y="531.3" font-size="12.4" text-anchor="middle" fill="#000" transform="rotate(-90 486.3 531.3)">(fold over 0 of 0 ng/ml CXCL12)</text>
<path d="M519.5 620.5V504.3H539V620.5" fill="none" stroke="#000000" stroke-width="1.3"/>
<path d="M542.8 620.5V482.4H562.5V620.5" fill="none" stroke="#ff0000" stroke-width="1.3"/>
<path d="M575.9 620.5V533.5H595.5V620.5" fill="none" stroke="#000000" stroke-width="1.3"/>
<path d="M599.3 620.5V539.9H618.4V620.5" fill="none" stroke="#ff0000" stroke-width="1.3"/>
<circle cx="523.4" cy="504" r="2" fill="#000"/>
<circle cx="529.3" cy="504" r="2" fill="#000"/>
<circle cx="535.2" cy="504" r="2" fill="#000"/>
<line x1="552.7" y1="482.4" x2="552.7" y2="478.3" stroke="#000" stroke-width="1.3"/>
<line x1="548.1" y1="478.3" x2="557.3" y2="478.3" stroke="#000" stroke-width="1.3"/>
<rect x="550.9" y="472.7" width="3.6" height="3.6" fill="#ff0000"/>
<rect x="554" y="482.6" width="3.6" height="3.6" fill="#ff0000"/>
<rect x="547.9" y="485.9" width="3.6" height="3.6" fill="#ff0000"/>
<line x1="585.8" y1="533.5" x2="585.8" y2="521" stroke="#000" stroke-width="1.3"/>
<line x1="581.2" y1="521" x2="590.4" y2="521" stroke="#000" stroke-width="1.3"/>
<circle cx="585.6" cy="508.8" r="2" fill="#000"/>
<circle cx="582.7" cy="546.9" r="2" fill="#000"/>
<circle cx="588.6" cy="544.8" r="2" fill="#000"/>
<line x1="609" y1="539.9" x2="609" y2="528.5" stroke="#000" stroke-width="1.3"/>
<line x1="604.3" y1="528.5" x2="613.7" y2="528.5" stroke="#000" stroke-width="1.3"/>
<rect x="607.15" y="516.15" width="3.7" height="3.7" fill="#ff0000"/>
<rect x="607.15" y="543.05" width="3.7" height="3.7" fill="#ff0000"/>
<rect x="607.15" y="554.65" width="3.7" height="3.7" fill="#ff0000"/>
<path d="M529.5 498.2V464.5H551V470.6" stroke="#000" stroke-width="1.2" fill="none"/>
<path d="M553.9 470.6V464.5H608.9V511.8" stroke="#000" stroke-width="1.2" fill="none"/>
<text x="534" y="460.7" font-size="9.4" text-anchor="middle" fill="#333">p=0.0112</text>
<text x="582.6" y="460.7" font-size="9.4" text-anchor="middle" fill="#333">p=0.0030</text>
<rect x="616.15" y="447.25" width="13.8" height="5.8" stroke="#222" stroke-width="1.3" fill="none"/>
<text x="637.8" y="453.5" font-size="11" text-anchor="start" fill="#333">0</text>
<rect x="616.15" y="461.25" width="13.8" height="6.8" stroke="#ff0000" stroke-width="1.3" fill="none"/>
<text x="638.8" y="469" font-size="11" text-anchor="start" fill="#333" textLength="38.4" lengthAdjust="spacingAndGlyphs">CXCL12</text>
<text x="678.2" y="465" font-size="6.2" text-anchor="start" fill="#333">hi</text>
</svg></body></html>
